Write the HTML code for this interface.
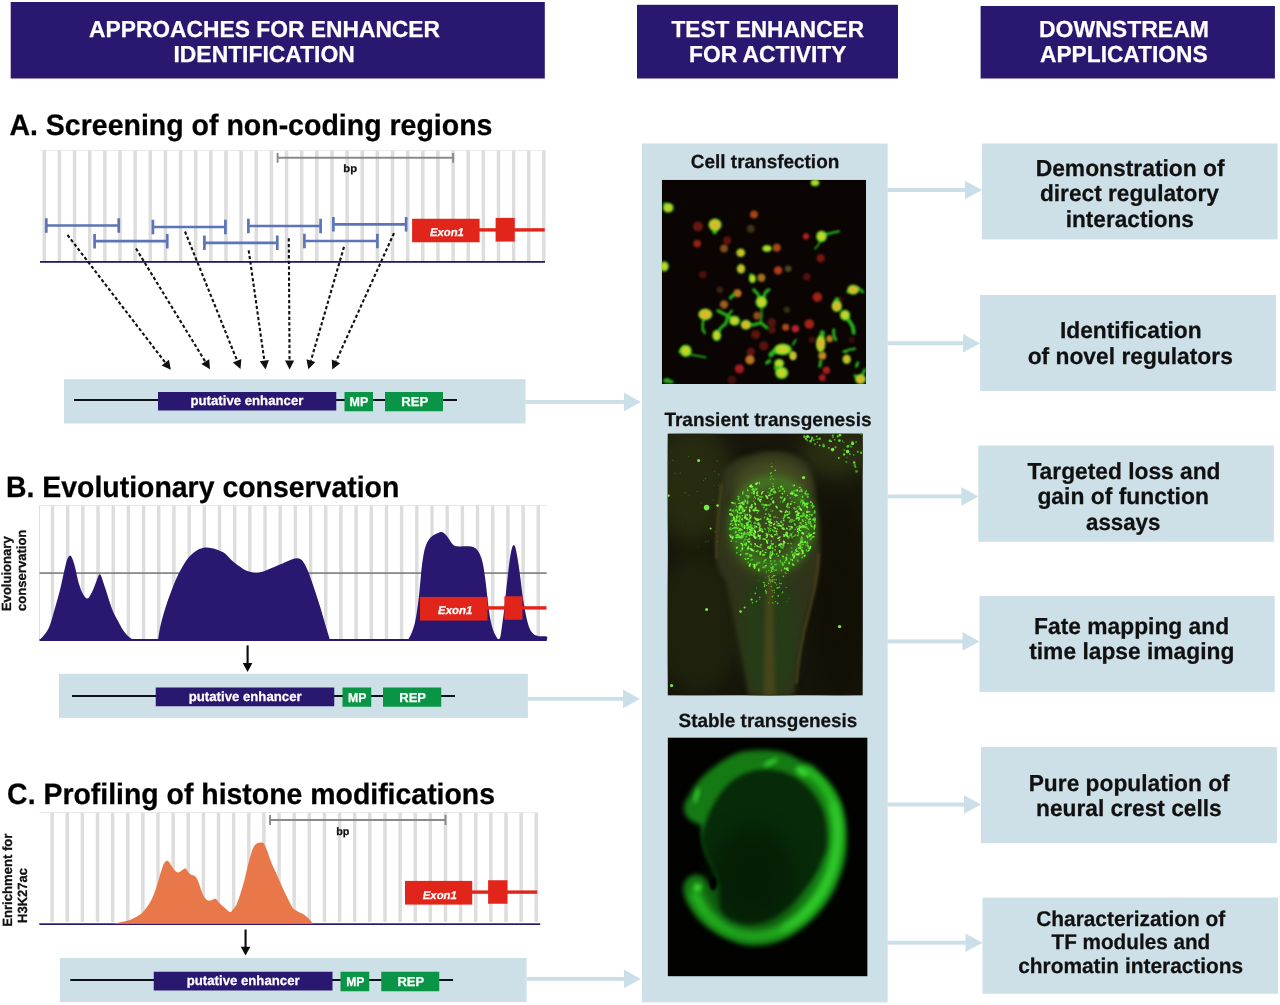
<!DOCTYPE html><html><head><meta charset="utf-8"><title>Enhancer identification</title>
<style>html,body{margin:0;padding:0;background:#fff}svg{display:block}text{font-family:"Liberation Sans",Arial,sans-serif;text-rendering:geometricPrecision}</style></head><body>
<svg width="1280" height="1005" viewBox="0 0 1280 1005">
<rect width="1280" height="1005" fill="#fff"/>
<defs>
<filter id="b1" color-interpolation-filters="sRGB" x="-50%" y="-50%" width="200%" height="200%"><feGaussianBlur stdDeviation="1.1"/></filter>
<filter id="b06" color-interpolation-filters="sRGB" x="-50%" y="-50%" width="200%" height="200%"><feGaussianBlur stdDeviation="0.6"/></filter>
<filter id="b08" color-interpolation-filters="sRGB" x="-50%" y="-50%" width="200%" height="200%"><feGaussianBlur stdDeviation="0.85"/></filter>
<filter id="b2" color-interpolation-filters="sRGB" x="-50%" y="-50%" width="200%" height="200%"><feGaussianBlur stdDeviation="2.2"/></filter>
<filter id="b25" color-interpolation-filters="sRGB" x="-50%" y="-50%" width="200%" height="200%"><feGaussianBlur stdDeviation="2.8"/></filter>
<filter id="b3" color-interpolation-filters="sRGB" x="-50%" y="-50%" width="200%" height="200%"><feGaussianBlur stdDeviation="3.5"/></filter>
<filter id="b6" color-interpolation-filters="sRGB" x="-50%" y="-50%" width="200%" height="200%"><feGaussianBlur stdDeviation="6"/></filter>
<filter id="b10" color-interpolation-filters="sRGB" x="-50%" y="-50%" width="200%" height="200%"><feGaussianBlur stdDeviation="10"/></filter>
<radialGradient id="gy"><stop offset="0" stop-color="#dccc2c"/><stop offset="0.6" stop-color="#bcd628"/><stop offset="1" stop-color="#3ad220"/></radialGradient>
<radialGradient id="go"><stop offset="0" stop-color="#e6a42c"/><stop offset="0.62" stop-color="#d6c42a"/><stop offset="1" stop-color="#5ccf24"/></radialGradient>
<clipPath id="c1"><rect x="0" y="0" width="204.3" height="204.3"/></clipPath>
<clipPath id="c2"><rect x="0" y="0" width="195.2" height="262"/></clipPath>
<clipPath id="c3"><rect x="0" y="0" width="200" height="239"/></clipPath>
</defs>
<rect x="10.7" y="2" width="534.1" height="76.5" fill="#2a1770"/>
<rect x="637" y="4.8" width="261" height="73.7" fill="#2a1770"/>
<rect x="980.6" y="6" width="294.3" height="72.5" fill="#2a1770"/>
<text transform="translate(89.00,37.20) scale(0.9943,1.013)" font-size="22.95" font-weight="bold" fill="#fff" stroke="#fff" stroke-width="0.25">APPROACHES FOR ENHANCER</text>
<text transform="translate(173.50,62.30) scale(0.9972,1.013)" font-size="22.95" font-weight="bold" fill="#fff" stroke="#fff" stroke-width="0.25">IDENTIFICATION</text>
<text transform="translate(671.50,37.20) scale(0.9872,1.013)" font-size="22.95" font-weight="bold" fill="#fff" stroke="#fff" stroke-width="0.25">TEST ENHANCER</text>
<text transform="translate(689.01,62.30) scale(0.9936,1.013)" font-size="22.95" font-weight="bold" fill="#fff" stroke="#fff" stroke-width="0.25">FOR ACTIVITY</text>
<text transform="translate(1039.00,37.20) scale(1.0030,1.013)" font-size="22.95" font-weight="bold" fill="#fff" stroke="#fff" stroke-width="0.25">DOWNSTREAM</text>
<text transform="translate(1040.00,62.30) scale(0.9911,1.013)" font-size="22.95" font-weight="bold" fill="#fff" stroke="#fff" stroke-width="0.25">APPLICATIONS</text>
<text transform="translate(9.40,135.00) scale(1.0002,1.035)" font-size="28.5" font-weight="bold" fill="#000" stroke="#000" stroke-width="0.25">A. Screening of non-coding regions</text>
<g fill="#dddddd"><rect x="42.55" y="150.4" width="3.50" height="110.6"/><rect x="57.69" y="150.4" width="3.50" height="110.6"/><rect x="72.83" y="150.4" width="3.50" height="110.6"/><rect x="87.97" y="150.4" width="3.50" height="110.6"/><rect x="103.11" y="150.4" width="3.50" height="110.6"/><rect x="118.25" y="150.4" width="3.50" height="110.6"/><rect x="133.39" y="150.4" width="3.50" height="110.6"/><rect x="148.53" y="150.4" width="3.50" height="110.6"/><rect x="163.67" y="150.4" width="3.50" height="110.6"/><rect x="178.81" y="150.4" width="3.50" height="110.6"/><rect x="193.95" y="150.4" width="3.50" height="110.6"/><rect x="209.09" y="150.4" width="3.50" height="110.6"/><rect x="224.23" y="150.4" width="3.50" height="110.6"/><rect x="239.37" y="150.4" width="3.50" height="110.6"/><rect x="254.51" y="150.4" width="3.50" height="110.6"/><rect x="269.65" y="150.4" width="3.50" height="110.6"/><rect x="284.79" y="150.4" width="3.50" height="110.6"/><rect x="299.93" y="150.4" width="3.50" height="110.6"/><rect x="315.07" y="150.4" width="3.50" height="110.6"/><rect x="330.21" y="150.4" width="3.50" height="110.6"/><rect x="345.35" y="150.4" width="3.50" height="110.6"/><rect x="360.49" y="150.4" width="3.50" height="110.6"/><rect x="375.63" y="150.4" width="3.50" height="110.6"/><rect x="390.77" y="150.4" width="3.50" height="110.6"/><rect x="405.91" y="150.4" width="3.50" height="110.6"/><rect x="421.05" y="150.4" width="3.50" height="110.6"/><rect x="436.19" y="150.4" width="3.50" height="110.6"/><rect x="451.33" y="150.4" width="3.50" height="110.6"/><rect x="466.47" y="150.4" width="3.50" height="110.6"/><rect x="481.61" y="150.4" width="3.50" height="110.6"/><rect x="496.75" y="150.4" width="3.50" height="110.6"/><rect x="511.89" y="150.4" width="3.50" height="110.6"/><rect x="527.03" y="150.4" width="3.50" height="110.6"/><rect x="542.17" y="150.4" width="3.33" height="110.6"/></g>
<rect x="40" y="150" width="505" height="0.8" fill="#e4e4e4"/>
<rect x="40" y="261" width="505" height="1.8" fill="#2a1770"/>
<g stroke="#8a8a8a" stroke-width="1.9" fill="none"><path d="M277.6,157.8H453.1M277.6,152.9V162.7M453.1,152.9V162.7"/></g>
<text transform="translate(343.30,172.10) scale(1.0385,1)" font-size="10.8" font-weight="bold" fill="#111" stroke="#111" stroke-width="0.25">bp</text>
<g stroke="#5b75b8" stroke-width="2.7" fill="none"><path d="M46.3,225.5H118.75M46.3,218.2V232.7M118.75,218.2V232.7"/><path d="M152.9,227.0H225.4M152.9,219.7V234.2M225.4,219.7V234.2"/><path d="M248.4,226.0H320.6M248.4,218.7V233.2M320.6,218.7V233.2"/><path d="M333.4,224.4H406.1M333.4,217.1V231.6M406.1,217.1V231.6"/><path d="M94.6,241.2H167.25M94.6,233.89999999999998V248.39999999999998M167.25,233.89999999999998V248.39999999999998"/><path d="M204.4,242.9H277.3M204.4,235.6V250.1M277.3,235.6V250.1"/><path d="M304.4,241.0H377.4M304.4,233.7V248.2M377.4,233.7V248.2"/></g>
<rect x="478.6" y="228.20000000000002" width="66.14999999999998" height="3.4" fill="#e1251b"/><rect x="412.1" y="218.75" width="67.5" height="23.5" fill="#e1251b"/><rect x="495.6" y="217.9" width="19.149999999999977" height="23.69999999999999" fill="#e1251b"/><text transform="translate(430.00,236.20) scale(0.9970,1)" font-size="11.3" font-weight="bold" font-style="italic" fill="#fff" stroke="#fff" stroke-width="0.25">Exon1</text>
<g stroke="#111" stroke-width="2.1" stroke-dasharray="3.3 2.3" fill="none"><path d="M67.5,235L165.33,362.66"/><path d="M136,248.5L205.30,361.63"/><path d="M185,231.5L237.13,360.65"/><path d="M248.7,250.3L264.34,360.59"/><path d="M288.8,238.3L289.55,360.50"/><path d="M344,246.9L310.91,360.66"/><path d="M394,233.1L336.01,361.30"/></g>
<g fill="#111"><polygon points="170.80,369.80 161.67,365.45 168.98,359.86"/><polygon points="210.00,369.30 201.38,364.03 209.22,359.22"/><polygon points="240.50,369.00 232.87,362.38 241.40,358.93"/><polygon points="265.60,369.50 259.78,361.23 268.89,359.94"/><polygon points="289.60,369.50 284.95,360.53 294.15,360.47"/><polygon points="308.40,369.30 306.50,359.37 315.33,361.94"/><polygon points="332.30,369.50 331.82,359.40 340.20,363.20"/></g>
<rect x="64" y="379.2" width="461.6" height="44.30000000000001" fill="#cde0e8"/><rect x="74" y="399" width="383" height="2" fill="#0c1218"/><rect x="158" y="392" width="178.25" height="18.5" fill="#2a1770"/><rect x="344.5" y="392" width="28.5" height="19.25" fill="#0a9546"/><rect x="385" y="392" width="58" height="19.25" fill="#0a9546"/><text transform="translate(190.50,404.50) scale(0.9848,1)" font-size="13.4" font-weight="bold" fill="#fff" stroke="#fff" stroke-width="0.25">putative enhancer</text><text transform="translate(349.50,406.00) scale(0.9737,1)" font-size="12.8" font-weight="bold" fill="#fff" stroke="#fff" stroke-width="0.25">MP</text><text transform="translate(401.25,406.00) scale(1.0288,1.014)" font-size="12.8" font-weight="bold" fill="#fff" stroke="#fff" stroke-width="0.25">REP</text>
<rect x="525.6" y="399.95" width="99.29999999999995" height="3.9" fill="#cbdfe8"/><polygon points="623.9,392.59999999999997 640.9,401.9 623.9,411.2" fill="#cbdfe8"/>
<text transform="translate(6.00,496.60) scale(0.9974,1.035)" font-size="28.5" font-weight="bold" fill="#000" stroke="#000" stroke-width="0.25">B. Evolutionary conservation</text>
<g fill="#dddddd"><rect x="50.80" y="505.5" width="3.40" height="134.5"/><rect x="65.98" y="505.5" width="3.40" height="134.5"/><rect x="81.16" y="505.5" width="3.40" height="134.5"/><rect x="96.34" y="505.5" width="3.40" height="134.5"/><rect x="111.52" y="505.5" width="3.40" height="134.5"/><rect x="126.70" y="505.5" width="3.40" height="134.5"/><rect x="141.88" y="505.5" width="3.40" height="134.5"/><rect x="157.06" y="505.5" width="3.40" height="134.5"/><rect x="172.24" y="505.5" width="3.40" height="134.5"/><rect x="187.42" y="505.5" width="3.40" height="134.5"/><rect x="202.60" y="505.5" width="3.40" height="134.5"/><rect x="217.78" y="505.5" width="3.40" height="134.5"/><rect x="232.96" y="505.5" width="3.40" height="134.5"/><rect x="248.14" y="505.5" width="3.40" height="134.5"/><rect x="263.32" y="505.5" width="3.40" height="134.5"/><rect x="278.50" y="505.5" width="3.40" height="134.5"/><rect x="293.68" y="505.5" width="3.40" height="134.5"/><rect x="308.86" y="505.5" width="3.40" height="134.5"/><rect x="324.04" y="505.5" width="3.40" height="134.5"/><rect x="339.22" y="505.5" width="3.40" height="134.5"/><rect x="354.40" y="505.5" width="3.40" height="134.5"/><rect x="369.58" y="505.5" width="3.40" height="134.5"/><rect x="384.76" y="505.5" width="3.40" height="134.5"/><rect x="399.94" y="505.5" width="3.40" height="134.5"/><rect x="415.12" y="505.5" width="3.40" height="134.5"/><rect x="430.30" y="505.5" width="3.40" height="134.5"/><rect x="445.48" y="505.5" width="3.40" height="134.5"/><rect x="460.66" y="505.5" width="3.40" height="134.5"/><rect x="475.84" y="505.5" width="3.40" height="134.5"/><rect x="491.02" y="505.5" width="3.40" height="134.5"/><rect x="506.20" y="505.5" width="3.40" height="134.5"/><rect x="521.38" y="505.5" width="3.40" height="134.5"/><rect x="536.56" y="505.5" width="3.40" height="134.5"/></g>
<rect x="39.5" y="505.2" width="507" height="0.8" fill="#e0e0e0"/><rect x="39.1" y="505.2" width="0.9" height="134" fill="#dcdcdc"/>
<rect x="39.5" y="572.3" width="507.2" height="1.6" fill="#7d7d7d"/>
<g fill="#2a1770"><path d="M39.50,640.00 C40.42,639.00 43.25,636.50 45.00,634.00 C46.75,631.50 48.33,629.33 50.00,625.00 C51.67,620.67 53.33,613.83 55.00,608.00 C56.67,602.17 58.50,596.00 60.00,590.00 C61.50,584.00 62.83,577.00 64.00,572.00 C65.17,567.00 66.00,562.75 67.00,560.00 C68.00,557.25 69.08,555.67 70.00,555.50 C70.92,555.33 71.67,557.08 72.50,559.00 C73.33,560.92 73.92,562.83 75.00,567.00 C76.08,571.17 77.67,579.50 79.00,584.00 C80.33,588.50 81.58,591.58 83.00,594.00 C84.42,596.42 86.08,598.67 87.50,598.50 C88.92,598.33 90.25,595.25 91.50,593.00 C92.75,590.75 93.92,587.67 95.00,585.00 C96.08,582.33 97.22,578.78 98.00,577.00 C98.78,575.22 99.12,574.30 99.70,574.30 C100.28,574.30 100.62,574.80 101.50,577.00 C102.38,579.20 103.17,582.00 105.00,587.50 C106.83,593.00 110.33,604.42 112.50,610.00 C114.67,615.58 116.25,617.67 118.00,621.00 C119.75,624.33 121.33,627.50 123.00,630.00 C124.67,632.50 126.33,634.33 128.00,636.00 C129.67,637.67 132.17,639.33 133.00,640.00Z"/><path d="M158.00,640.00 C158.33,638.00 159.17,632.00 160.00,628.00 C160.83,624.00 161.83,620.17 163.00,616.00 C164.17,611.83 165.42,607.67 167.00,603.00 C168.58,598.33 170.67,592.67 172.50,588.00 C174.33,583.33 175.92,579.25 178.00,575.00 C180.08,570.75 182.83,565.83 185.00,562.50 C187.17,559.17 188.92,557.08 191.00,555.00 C193.08,552.92 195.17,551.25 197.50,550.00 C199.83,548.75 202.58,547.78 205.00,547.50 C207.42,547.22 209.83,547.88 212.00,548.30 C214.17,548.72 215.83,549.13 218.00,550.00 C220.17,550.87 222.58,551.67 225.00,553.50 C227.42,555.33 230.17,558.92 232.50,561.00 C234.83,563.08 236.92,564.50 239.00,566.00 C241.08,567.50 242.33,568.83 245.00,570.00 C247.67,571.17 252.00,572.75 255.00,573.00 C258.00,573.25 260.50,572.20 263.00,571.50 C265.50,570.80 267.17,569.97 270.00,568.80 C272.83,567.63 277.08,565.77 280.00,564.50 C282.92,563.23 285.33,562.12 287.50,561.20 C289.67,560.28 291.42,559.48 293.00,559.00 C294.58,558.52 295.67,558.22 297.00,558.30 C298.33,558.38 299.83,558.72 301.00,559.50 C302.17,560.28 302.83,561.08 304.00,563.00 C305.17,564.92 306.67,567.83 308.00,571.00 C309.33,574.17 310.50,577.67 312.00,582.00 C313.50,586.33 315.33,591.83 317.00,597.00 C318.67,602.17 320.50,608.00 322.00,613.00 C323.50,618.00 324.67,622.50 326.00,627.00 C327.33,631.50 329.33,637.83 330.00,640.00Z"/><path d="M408.00,640.00 C408.67,638.67 410.75,635.33 412.00,632.00 C413.25,628.67 414.42,625.33 415.50,620.00 C416.58,614.67 417.67,606.67 418.50,600.00 C419.33,593.33 419.92,585.83 420.50,580.00 C421.08,574.17 421.33,570.00 422.00,565.00 C422.67,560.00 423.50,554.00 424.50,550.00 C425.50,546.00 426.58,543.42 428.00,541.00 C429.42,538.58 431.33,536.83 433.00,535.50 C434.67,534.17 436.58,533.58 438.00,533.00 C439.42,532.42 440.33,531.83 441.50,532.00 C442.67,532.17 443.75,532.83 445.00,534.00 C446.25,535.17 447.83,537.42 449.00,539.00 C450.17,540.58 451.00,542.33 452.00,543.50 C453.00,544.67 453.67,545.52 455.00,546.00 C456.33,546.48 458.17,546.37 460.00,546.40 C461.83,546.43 464.17,546.18 466.00,546.20 C467.83,546.22 469.50,546.20 471.00,546.50 C472.50,546.80 473.83,547.25 475.00,548.00 C476.17,548.75 477.00,549.50 478.00,551.00 C479.00,552.50 480.08,554.33 481.00,557.00 C481.92,559.67 482.67,562.33 483.50,567.00 C484.33,571.67 485.25,579.00 486.00,585.00 C486.75,591.00 487.25,597.17 488.00,603.00 C488.75,608.83 489.58,615.33 490.50,620.00 C491.42,624.67 492.50,628.17 493.50,631.00 C494.50,633.83 495.62,635.58 496.50,637.00 C497.38,638.42 498.13,639.67 498.80,639.50 C499.47,639.33 499.97,638.25 500.50,636.00 C501.03,633.75 501.42,630.17 502.00,626.00 C502.58,621.83 503.33,616.67 504.00,611.00 C504.67,605.33 505.33,598.17 506.00,592.00 C506.67,585.83 507.33,579.67 508.00,574.00 C508.67,568.33 509.33,562.33 510.00,558.00 C510.67,553.67 511.37,550.17 512.00,548.00 C512.63,545.83 513.22,545.00 513.80,545.00 C514.38,545.00 514.88,545.83 515.50,548.00 C516.12,550.17 516.75,553.50 517.50,558.00 C518.25,562.50 519.17,568.83 520.00,575.00 C520.83,581.17 521.58,588.67 522.50,595.00 C523.42,601.33 524.42,607.67 525.50,613.00 C526.58,618.33 527.75,623.58 529.00,627.00 C530.25,630.42 531.50,632.00 533.00,633.50 C534.50,635.00 535.72,635.50 538.00,636.00 C540.28,636.50 545.25,635.83 546.70,636.50 C548.15,637.17 546.70,639.42 546.70,640.00Z"/><rect x="39.5" y="639" width="507.2" height="2"/></g>
<rect x="486.5" y="606.1999999999999" width="60.0" height="3.4" fill="#e1251b"/><rect x="420" y="596.9" width="67.5" height="23.700000000000045" fill="#e1251b"/><rect x="504.4" y="596.25" width="18.100000000000023" height="23.5" fill="#e1251b"/><text transform="translate(438.10,614.40) scale(1.0121,1)" font-size="11.3" font-weight="bold" font-style="italic" fill="#fff" stroke="#fff" stroke-width="0.25">Exon1</text>
<text transform="translate(11.30,611.10) rotate(-90) scale(0.9829,1) translate(-0.00,0)" font-size="13.3" font-weight="bold" fill="#111" stroke="#111" stroke-width="0.25">Evoluionary</text><text transform="translate(26.30,610.90) rotate(-90) scale(0.9817,1) translate(-0.00,0)" font-size="13.3" font-weight="bold" fill="#111" stroke="#111" stroke-width="0.25">conservation</text>
<rect x="246.54999999999998" y="645.4" width="2.1" height="19.5" fill="#0a0a0a"/><polygon points="242.79999999999998,663.1 252.4,663.1 247.6,671.9" fill="#0a0a0a"/>
<rect x="59" y="673.8" width="468.9" height="44.200000000000045" fill="#cde0e8"/><rect x="72" y="695" width="383" height="2" fill="#0c1218"/><rect x="155.75" y="687.5" width="178.5" height="18.75" fill="#2a1770"/><rect x="342.5" y="687.5" width="28.75" height="19.25" fill="#0a9546"/><rect x="383" y="687.5" width="58.25" height="19.25" fill="#0a9546"/><text transform="translate(188.75,700.50) scale(0.9848,1)" font-size="13.4" font-weight="bold" fill="#fff" stroke="#fff" stroke-width="0.25">putative enhancer</text><text transform="translate(348.00,701.80) scale(0.9605,1)" font-size="12.8" font-weight="bold" fill="#fff" stroke="#fff" stroke-width="0.25">MP</text><text transform="translate(399.25,701.80) scale(1.0192,1.014)" font-size="12.8" font-weight="bold" fill="#fff" stroke="#fff" stroke-width="0.25">REP</text>
<rect x="527.9" y="696.9499999999999" width="96.10000000000002" height="3.9" fill="#cbdfe8"/><polygon points="623,689.6 640,698.9 623,708.1999999999999" fill="#cbdfe8"/>
<text transform="translate(7.10,804.10) scale(0.9973,1.035)" font-size="28.5" font-weight="bold" fill="#000" stroke="#000" stroke-width="0.25">C. Profiling of histone modifications</text>
<g fill="#dddddd"><rect x="50.35" y="812.5" width="3.50" height="109.5"/><rect x="65.48" y="812.5" width="3.50" height="109.5"/><rect x="80.61" y="812.5" width="3.50" height="109.5"/><rect x="95.74" y="812.5" width="3.50" height="109.5"/><rect x="110.87" y="812.5" width="3.50" height="109.5"/><rect x="126.00" y="812.5" width="3.50" height="109.5"/><rect x="141.13" y="812.5" width="3.50" height="109.5"/><rect x="156.26" y="812.5" width="3.50" height="109.5"/><rect x="171.39" y="812.5" width="3.50" height="109.5"/><rect x="186.52" y="812.5" width="3.50" height="109.5"/><rect x="201.65" y="812.5" width="3.50" height="109.5"/><rect x="216.78" y="812.5" width="3.50" height="109.5"/><rect x="231.91" y="812.5" width="3.50" height="109.5"/><rect x="247.04" y="812.5" width="3.50" height="109.5"/><rect x="262.17" y="812.5" width="3.50" height="109.5"/><rect x="277.30" y="812.5" width="3.50" height="109.5"/><rect x="292.43" y="812.5" width="3.50" height="109.5"/><rect x="307.56" y="812.5" width="3.50" height="109.5"/><rect x="322.69" y="812.5" width="3.50" height="109.5"/><rect x="337.82" y="812.5" width="3.50" height="109.5"/><rect x="352.95" y="812.5" width="3.50" height="109.5"/><rect x="368.08" y="812.5" width="3.50" height="109.5"/><rect x="383.21" y="812.5" width="3.50" height="109.5"/><rect x="398.34" y="812.5" width="3.50" height="109.5"/><rect x="413.47" y="812.5" width="3.50" height="109.5"/><rect x="428.60" y="812.5" width="3.50" height="109.5"/><rect x="443.73" y="812.5" width="3.50" height="109.5"/><rect x="458.86" y="812.5" width="3.50" height="109.5"/><rect x="473.99" y="812.5" width="3.50" height="109.5"/><rect x="489.12" y="812.5" width="3.50" height="109.5"/><rect x="504.25" y="812.5" width="3.50" height="109.5"/><rect x="519.38" y="812.5" width="3.50" height="109.5"/><rect x="534.51" y="812.5" width="3.50" height="109.5"/></g>
<rect x="39.5" y="812.2" width="498" height="0.8" fill="#e4e4e4"/>
<rect x="39.3" y="923.3" width="500.9" height="1.7" fill="#2a1770"/>
<g stroke="#8a8a8a" stroke-width="1.9" fill="none"><path d="M270,820H445.5M270,815V825M445.5,815V825"/></g>
<text transform="translate(336.20,834.50) scale(1.0000,1)" font-size="10.8" font-weight="bold" fill="#111" stroke="#111" stroke-width="0.25">bp</text>
<path d="M112.50,923.80 C114.08,923.50 119.08,922.63 122.00,922.00 C124.92,921.37 127.50,920.92 130.00,920.00 C132.50,919.08 134.92,917.75 137.00,916.50 C139.08,915.25 140.67,914.33 142.50,912.50 C144.33,910.67 146.33,908.00 148.00,905.50 C149.67,903.00 151.08,900.58 152.50,897.50 C153.92,894.42 155.25,890.75 156.50,887.00 C157.75,883.25 158.83,878.75 160.00,875.00 C161.17,871.25 162.58,866.75 163.50,864.50 C164.42,862.25 164.88,862.12 165.50,861.50 C166.12,860.88 166.62,860.72 167.20,860.80 C167.78,860.88 168.32,861.22 169.00,862.00 C169.68,862.78 170.47,864.25 171.30,865.50 C172.13,866.75 172.97,868.33 174.00,869.50 C175.03,870.67 176.33,872.25 177.50,872.50 C178.67,872.75 179.92,871.62 181.00,871.00 C182.08,870.38 183.23,869.20 184.00,868.80 C184.77,868.40 185.02,868.23 185.60,868.60 C186.18,868.97 186.77,870.10 187.50,871.00 C188.23,871.90 189.08,873.28 190.00,874.00 C190.92,874.72 192.12,874.88 193.00,875.30 C193.88,875.72 194.63,875.88 195.30,876.50 C195.97,877.12 196.38,877.83 197.00,879.00 C197.62,880.17 198.25,881.50 199.00,883.50 C199.75,885.50 200.67,888.83 201.50,891.00 C202.33,893.17 203.08,895.00 204.00,896.50 C204.92,898.00 206.00,899.32 207.00,900.00 C208.00,900.68 209.00,900.68 210.00,900.60 C211.00,900.52 212.07,899.82 213.00,899.50 C213.93,899.18 214.85,898.53 215.60,898.70 C216.35,898.87 216.77,899.67 217.50,900.50 C218.23,901.33 218.75,902.45 220.00,903.70 C221.25,904.95 223.33,906.62 225.00,908.00 C226.67,909.38 228.67,911.75 230.00,912.00 C231.33,912.25 231.95,910.67 233.00,909.50 C234.05,908.33 235.13,907.42 236.30,905.00 C237.47,902.58 238.75,898.75 240.00,895.00 C241.25,891.25 242.63,886.83 243.80,882.50 C244.97,878.17 245.97,873.17 247.00,869.00 C248.03,864.83 249.08,860.75 250.00,857.50 C250.92,854.25 251.67,851.58 252.50,849.50 C253.33,847.42 254.08,846.08 255.00,845.00 C255.92,843.92 256.95,843.42 258.00,843.00 C259.05,842.58 260.42,842.50 261.30,842.50 C262.18,842.50 262.68,842.50 263.30,843.00 C263.92,843.50 264.22,843.83 265.00,845.50 C265.78,847.17 266.95,850.17 268.00,853.00 C269.05,855.83 269.80,858.83 271.30,862.50 C272.80,866.17 275.13,870.83 277.00,875.00 C278.87,879.17 280.75,883.67 282.50,887.50 C284.25,891.33 285.83,894.67 287.50,898.00 C289.17,901.33 290.92,905.33 292.50,907.50 C294.08,909.67 295.33,909.95 297.00,911.00 C298.67,912.05 300.83,912.80 302.50,913.80 C304.17,914.80 305.75,915.97 307.00,917.00 C308.25,918.03 309.03,918.87 310.00,920.00 C310.97,921.13 312.33,923.17 312.80,923.80Z" fill="#e8784a"/>
<rect x="471.25" y="890.4" width="66.0" height="3.4" fill="#e1251b"/><rect x="405" y="880.9" width="67.25" height="23.700000000000045" fill="#e1251b"/><rect x="488.1" y="880.25" width="19.399999999999977" height="23.5" fill="#e1251b"/><text transform="translate(422.75,898.50) scale(1.0045,1)" font-size="11.3" font-weight="bold" font-style="italic" fill="#fff" stroke="#fff" stroke-width="0.25">Exon1</text>
<text transform="translate(12.00,926.80) rotate(-90) scale(0.9863,1) translate(-0.00,0)" font-size="13.3" font-weight="bold" fill="#111" stroke="#111" stroke-width="0.25">Enrichment for</text><text transform="translate(26.60,922.90) rotate(-90) scale(0.9768,1) translate(-0.00,0)" font-size="13.3" font-weight="bold" fill="#111" stroke="#111" stroke-width="0.25">H3K27ac</text>
<rect x="244.5" y="929.5" width="2.1" height="19.100000000000023" fill="#0a0a0a"/><polygon points="240.75,946.8000000000001 250.35000000000002,946.8000000000001 245.55,955.6" fill="#0a0a0a"/>
<rect x="60" y="958" width="466.6" height="44" fill="#cde0e8"/><rect x="70.3" y="979" width="382.7" height="2" fill="#0c1218"/><rect x="153.75" y="971.75" width="178.75" height="18.75" fill="#2a1770"/><rect x="340.5" y="971.75" width="28.75" height="19.5" fill="#0a9546"/><rect x="381.25" y="971.75" width="58.0" height="19.5" fill="#0a9546"/><text transform="translate(186.75,985.00) scale(0.9848,1)" font-size="13.4" font-weight="bold" fill="#fff" stroke="#fff" stroke-width="0.25">putative enhancer</text><text transform="translate(346.25,986.20) scale(0.9474,1)" font-size="12.8" font-weight="bold" fill="#fff" stroke="#fff" stroke-width="0.25">MP</text><text transform="translate(397.50,986.20) scale(1.0096,1.014)" font-size="12.8" font-weight="bold" fill="#fff" stroke="#fff" stroke-width="0.25">REP</text>
<rect x="526.6" y="976.9499999999999" width="98.29999999999995" height="3.9" fill="#cbdfe8"/><polygon points="623.9,969.6 640.9,978.9 623.9,988.1999999999999" fill="#cbdfe8"/>
<rect x="641.9" y="143.5" width="245.8" height="858.9" fill="#cde0e8"/>
<text transform="translate(690.80,168.40) scale(0.9926,1)" font-size="19.1" font-weight="bold" fill="#111" stroke="#111" stroke-width="0.25">Cell transfection</text>
<text transform="translate(664.40,426.30) scale(0.9957,1)" font-size="19.1" font-weight="bold" fill="#111" stroke="#111" stroke-width="0.25">Transient transgenesis</text>
<text transform="translate(678.60,726.80) scale(0.9906,1)" font-size="19.1" font-weight="bold" fill="#111" stroke="#111" stroke-width="0.25">Stable transgenesis</text>
<g transform="translate(661.8,179.8)" clip-path="url(#c1)">
<rect width="204.3" height="204.3" fill="#0a0402"/>
<g filter="url(#b1)" opacity="0.85">
<circle cx="92.2" cy="34.6" r="3.96" fill="#c2501e"/>
<circle cx="36.2" cy="46.7" r="5.06" fill="#7a1d12"/>
<circle cx="89" cy="49" r="3.96" fill="#4a3a1c"/>
<circle cx="35.4" cy="63.8" r="3.85" fill="#b02a1c"/>
<circle cx="65.4" cy="60.6" r="4.18" fill="#6e1712"/>
<circle cx="62.2" cy="68.7" r="3.96" fill="#9a5a22"/>
<circle cx="144.2" cy="56.5" r="3.08" fill="#d8242a"/>
<circle cx="115" cy="67.9" r="3.96" fill="#c4581f"/>
<circle cx="158.9" cy="78.4" r="4.18" fill="#8a1c16"/>
<circle cx="116.3" cy="90.6" r="4.18" fill="#d0461e"/>
<circle cx="126.4" cy="89" r="3.30" fill="#5a5426"/>
<circle cx="41" cy="94.7" r="3.85" fill="#5a1410"/>
<circle cx="145" cy="97" r="3.85" fill="#5e1512"/>
<circle cx="99.6" cy="97.9" r="3.96" fill="#c08a22"/>
<circle cx="155.6" cy="117.4" r="4.84" fill="#b8281a"/>
<circle cx="147.5" cy="144.2" r="4.84" fill="#c02a1c"/>
<circle cx="133.7" cy="149" r="3.74" fill="#d42a3a"/>
<circle cx="123.9" cy="147.5" r="3.52" fill="#c85a20"/>
<circle cx="110" cy="142.6" r="4.40" fill="#5c1a10"/>
<circle cx="93.9" cy="154.8" r="4.62" fill="#6a1a10"/>
<circle cx="102" cy="166" r="4.62" fill="#6a1712"/>
<circle cx="89" cy="171.9" r="4.18" fill="#701814"/>
<circle cx="77.6" cy="189" r="4.62" fill="#c0222a"/>
<circle cx="164.6" cy="190.5" r="3.74" fill="#c02528"/>
<circle cx="160.5" cy="197.9" r="3.52" fill="#b8222a"/>
<circle cx="95.5" cy="136" r="3.96" fill="#a85a1e"/>
<circle cx="62.2" cy="124.7" r="4.18" fill="#b0701f"/>
<circle cx="75.7" cy="113.4" r="3.96" fill="#e08a28"/>
<circle cx="167.8" cy="158.9" r="3.52" fill="#d8902a"/>
<circle cx="160.5" cy="176" r="3.96" fill="#e0a02a"/>
<circle cx="88.2" cy="180" r="4.62" fill="#dc8a2a"/>
<circle cx="131.2" cy="176" r="3.52" fill="#d8b030"/>
<circle cx="58" cy="110" r="3.30" fill="#4a2a14"/>
<circle cx="125" cy="130" r="3.30" fill="#3a3a1c"/>
<circle cx="110" cy="150" r="3.85" fill="#5a1a10"/>
<circle cx="70" cy="200" r="4.40" fill="#4a1410"/>
<circle cx="150" cy="160" r="3.30" fill="#4a1410"/>
<circle cx="190" cy="160" r="3.30" fill="#3a1210"/>
<circle cx="178" cy="120" r="3.30" fill="#3a1210"/>
</g>
<g filter="url(#b1)" stroke="#2cc41e" fill="none" stroke-linecap="round" opacity="0.9">
<path d="M159.7,55.7 L170,53 L177,51.5" stroke-width="2.4"/>
<path d="M159,60 L156,66 L153,69" stroke-width="1.6"/>
<path d="M53.2,46 L53,52" stroke-width="5"/>
<path d="M6.4,28 L3,24" stroke-width="3"/>
<path d="M99.6,122 L96,114 L92,110 M99.6,122 L104,112 L107,110" stroke-width="3.2"/>
<path d="M99.6,128 L100,136 L99,142" stroke-width="1.8"/>
<path d="M68.7,118 L72,115" stroke-width="3.5"/>
<path d="M43.5,134.5 L41,143 L41,150 L43,153" stroke-width="2.6"/>
<path d="M56,131 L62,134 L66,136 L72,140 M66,136 L64,144 L60,147 L57,151" stroke-width="3.2"/>
<path d="M66,136 L70,131" stroke-width="2.5"/>
<path d="M84,145 L92,145 L99,143 L105,148" stroke-width="3.2"/>
<path d="M160.5,153 L160,158 L158,166" stroke-width="5"/>
<path d="M171.9,150 L172,156 L174,160" stroke-width="3"/>
<path d="M175,120 L174,126" stroke-width="5"/>
<path d="M183,135 L188,142 L191,147 L192,153" stroke-width="4"/>
<path d="M191,110 L186,112 M196,108 L201,112" stroke-width="3"/>
<path d="M24,171 L30,175 L36,176 L44,177.5" stroke-width="1.8"/>
<path d="M18,172 L22,168" stroke-width="3"/>
<path d="M119.9,170 L112,172 L109,175" stroke-width="5"/>
<path d="M105,183 L108,181" stroke-width="3.5"/>
<path d="M117,183 L114,188 L119,193" stroke-width="4"/>
<path d="M184.9,172 L181,172 L187,170 L193,169" stroke-width="2.4"/>
<path d="M158,186.5 L159,181" stroke-width="3"/>
<path d="M194.6,186.5 L196,183" stroke-width="3"/>
<path d="M198,198 L193,196 M200,196 L203,190" stroke-width="3"/>
<path d="M6,200 L2,201 L10,202" stroke-width="3.5"/>
<path d="M131,165 L134,160" stroke-width="2"/>
<path d="M90.6,97.9 L89,95" stroke-width="3"/>
</g>
<g filter="url(#b08)">
<ellipse cx="153.2" cy="2.9" rx="4.48" ry="3.54" fill="url(#gy)"/>
<ellipse cx="6.4" cy="28" rx="5.43" ry="4.96" fill="url(#gy)"/>
<ellipse cx="53.2" cy="45" rx="6.61" ry="6.37" fill="url(#go)"/>
<ellipse cx="159.7" cy="56.5" rx="5.43" ry="5.90" fill="url(#gy)"/>
<ellipse cx="105.2" cy="68.7" rx="4.96" ry="3.54" fill="url(#gy)"/>
<ellipse cx="78.9" cy="73" rx="4.48" ry="4.25" fill="url(#go)"/>
<ellipse cx="2.5" cy="86.6" rx="4.48" ry="5.19" fill="url(#gy)"/>
<ellipse cx="79.2" cy="89" rx="4.25" ry="4.72" fill="url(#go)"/>
<ellipse cx="90.6" cy="99" rx="3.54" ry="4.25" fill="url(#gy)"/>
<ellipse cx="191.4" cy="110" rx="5.90" ry="4.96" fill="url(#go)"/>
<ellipse cx="175" cy="126.4" rx="5.19" ry="5.90" fill="url(#go)"/>
<ellipse cx="183.2" cy="135.3" rx="5.19" ry="5.43" fill="url(#gy)"/>
<ellipse cx="99.6" cy="122.3" rx="5.90" ry="6.14" fill="url(#gy)"/>
<ellipse cx="43.5" cy="134.5" rx="7.08" ry="5.90" fill="url(#go)"/>
<ellipse cx="72.7" cy="141" rx="5.43" ry="4.96" fill="url(#gy)"/>
<ellipse cx="54.9" cy="155.6" rx="4.48" ry="5.66" fill="url(#gy)"/>
<ellipse cx="84.1" cy="145" rx="5.19" ry="4.96" fill="url(#go)"/>
<ellipse cx="158.9" cy="164" rx="4.72" ry="8.73" fill="url(#go)"/>
<ellipse cx="24" cy="171" rx="5.90" ry="6.14" fill="url(#gy)"/>
<ellipse cx="121" cy="169.5" rx="8.97" ry="5.90" fill="url(#gy)"/>
<ellipse cx="184.9" cy="179.5" rx="4.25" ry="4.72" fill="url(#go)"/>
<ellipse cx="117.4" cy="183.5" rx="4.96" ry="4.25" fill="url(#gy)"/>
<ellipse cx="119.9" cy="193" rx="6.61" ry="6.14" fill="url(#gy)"/>
<ellipse cx="198.7" cy="199.5" rx="5.43" ry="4.96" fill="url(#go)"/>
<ellipse cx="131.2" cy="176" rx="3.07" ry="4.48" fill="url(#go)"/>
</g></g>
<g transform="translate(667.6,433.6)" clip-path="url(#c2)">
<rect width="195.2" height="262" fill="#15150a"/>
<g filter="url(#b10)"><ellipse cx="25" cy="50" rx="42" ry="60" fill="#272b10"/><ellipse cx="30" cy="190" rx="45" ry="70" fill="#1e220d"/><ellipse cx="170" cy="18" rx="40" ry="26" fill="#2a3012"/><ellipse cx="172" cy="170" rx="26" ry="100" fill="#120f05"/><ellipse cx="100" cy="10" rx="40" ry="10" fill="#1a160a"/></g>
<path d="M106.5,17.7 C98,17.7 92,19 85.7,20.8 C76,23 69,25 64.9,28.6 C59,32 57,35 55.8,39 C53,48 52.5,56 51.9,64.9 C50.5,75 49.5,82 48.8,90.9 C48,100 47.8,108 48,116.9 C48.3,124 49,130 50.6,135 C53,141 56,145 58.4,148 C61,160 63,170 65.3,181.8 C68,195 71,208 74.1,220.7 C77,234 79,248 81,262 L126,262 C128.6,252 129,243 129.8,233.7 C131,225 132,216 133.7,207.7 C136,197 139,187 141.5,176.6 C144,166 147,156 149.3,145.4 C151,136 152.5,126 152.7,116.9 C152.8,105 152,94 150.6,83.1 C149.5,72 148.5,62 146.7,51.9 C145,44 143,37 140.2,31.2 C136,26 131,23 124.6,20.8 C118,18.5 112,17.7 106.5,17.7Z" fill="#30341a" filter="url(#b2)"/>
<g filter="url(#b6)"><ellipse cx="104" cy="52" rx="38" ry="26" fill="#454b22"/><ellipse cx="102" cy="200" rx="28" ry="66" fill="#263c17"/><ellipse cx="102" cy="100" rx="42" ry="44" fill="#384a1c"/></g>
<path d="M99,140 C98,180 96,220 96,262 L108,262 C106,220 106,180 106,140Z" fill="#5a4c1e" opacity="0.65" filter="url(#b2)"/>
<path d="M151,120 C150,150 142,175 136,200 C132,218 130,235 129,250" stroke="#5c4f22" stroke-width="2.2" fill="none" opacity="0.7" filter="url(#b1)"/>
<path d="M54,50 C51,75 48,100 49,125" stroke="#5a5528" stroke-width="2" fill="none" opacity="0.6" filter="url(#b1)"/>
<g filter="url(#b3)" opacity="0.38"><ellipse cx="104.5" cy="90" rx="36" ry="42" fill="none" stroke="#3fae22" stroke-width="14"/></g>
<g filter="url(#b06)"><ellipse cx="105.0" cy="133.7" rx="1.78" ry="0.84" fill="#5be02a" transform="rotate(114 105.0 133.7)"/><ellipse cx="139.5" cy="60.8" rx="2.05" ry="1.06" fill="#45c022" transform="rotate(166 139.5 60.8)"/><ellipse cx="130.0" cy="127.1" rx="1.57" ry="0.72" fill="#45c022" transform="rotate(59 130.0 127.1)"/><ellipse cx="66.4" cy="85.7" rx="2.34" ry="1.08" fill="#7cf03c" transform="rotate(65 66.4 85.7)"/><ellipse cx="146.9" cy="93.3" rx="1.37" ry="0.94" fill="#5be02a" transform="rotate(79 146.9 93.3)"/><ellipse cx="134.9" cy="113.9" rx="0.74" ry="0.52" fill="#5be02a" transform="rotate(2 134.9 113.9)"/><ellipse cx="129.3" cy="93.4" rx="0.99" ry="0.71" fill="#4fd026" transform="rotate(151 129.3 93.4)"/><ellipse cx="120.1" cy="81.0" rx="1.52" ry="0.69" fill="#7cf03c" transform="rotate(147 120.1 81.0)"/><ellipse cx="138.4" cy="111.5" rx="0.92" ry="0.50" fill="#74f23c" transform="rotate(3 138.4 111.5)"/><ellipse cx="74.1" cy="90.7" rx="1.35" ry="0.99" fill="#74f23c" transform="rotate(79 74.1 90.7)"/><ellipse cx="112.9" cy="68.4" rx="0.59" ry="0.51" fill="#4fd026" transform="rotate(61 112.9 68.4)"/><ellipse cx="80.9" cy="108.2" rx="1.77" ry="0.77" fill="#5be02a" transform="rotate(32 80.9 108.2)"/><ellipse cx="139.9" cy="111.2" rx="0.65" ry="0.57" fill="#4fd026" transform="rotate(105 139.9 111.2)"/><ellipse cx="72.4" cy="72.6" rx="2.08" ry="1.07" fill="#7cf03c" transform="rotate(133 72.4 72.6)"/><ellipse cx="79.6" cy="84.6" rx="1.32" ry="1.08" fill="#45c022" transform="rotate(94 79.6 84.6)"/><ellipse cx="83.5" cy="53.0" rx="2.25" ry="1.02" fill="#93fa52" transform="rotate(7 83.5 53.0)"/><ellipse cx="82.1" cy="77.0" rx="2.01" ry="0.85" fill="#93fa52" transform="rotate(84 82.1 77.0)"/><ellipse cx="80.6" cy="113.3" rx="1.57" ry="0.72" fill="#5be02a" transform="rotate(132 80.6 113.3)"/><ellipse cx="90.8" cy="65.3" rx="1.49" ry="1.03" fill="#5be02a" transform="rotate(94 90.8 65.3)"/><ellipse cx="130.5" cy="95.1" rx="1.27" ry="0.65" fill="#74f23c" transform="rotate(162 130.5 95.1)"/><ellipse cx="83.7" cy="74.2" rx="1.24" ry="0.81" fill="#74f23c" transform="rotate(34 83.7 74.2)"/><ellipse cx="104.1" cy="134.8" rx="2.07" ry="0.90" fill="#4fd026" transform="rotate(43 104.1 134.8)"/><ellipse cx="101.7" cy="61.6" rx="1.52" ry="0.77" fill="#7cf03c" transform="rotate(159 101.7 61.6)"/><ellipse cx="68.6" cy="76.6" rx="1.22" ry="0.81" fill="#66e830" transform="rotate(144 68.6 76.6)"/><ellipse cx="119.7" cy="99.9" rx="1.64" ry="0.84" fill="#66e830" transform="rotate(94 119.7 99.9)"/><ellipse cx="89.0" cy="76.8" rx="1.73" ry="0.83" fill="#93fa52" transform="rotate(179 89.0 76.8)"/><ellipse cx="135.4" cy="110.9" rx="0.89" ry="0.52" fill="#7cf03c" transform="rotate(1 135.4 110.9)"/><ellipse cx="94.8" cy="97.8" rx="1.25" ry="0.90" fill="#93fa52" transform="rotate(22 94.8 97.8)"/><ellipse cx="82.9" cy="83.7" rx="2.24" ry="1.02" fill="#4fd026" transform="rotate(129 82.9 83.7)"/><ellipse cx="122.6" cy="64.4" rx="0.98" ry="0.46" fill="#5be02a" transform="rotate(109 122.6 64.4)"/><ellipse cx="111.3" cy="104.1" rx="2.03" ry="0.88" fill="#93fa52" transform="rotate(148 111.3 104.1)"/><ellipse cx="124.3" cy="103.0" rx="1.69" ry="0.77" fill="#45c022" transform="rotate(65 124.3 103.0)"/><ellipse cx="143.2" cy="105.3" rx="1.89" ry="1.06" fill="#45c022" transform="rotate(127 143.2 105.3)"/><ellipse cx="113.3" cy="77.7" rx="1.74" ry="0.95" fill="#93fa52" transform="rotate(23 113.3 77.7)"/><ellipse cx="68.1" cy="97.8" rx="0.87" ry="0.52" fill="#66e830" transform="rotate(121 68.1 97.8)"/><ellipse cx="77.4" cy="68.1" rx="1.04" ry="0.60" fill="#93fa52" transform="rotate(149 77.4 68.1)"/><ellipse cx="126.3" cy="102.8" rx="1.12" ry="0.68" fill="#45c022" transform="rotate(157 126.3 102.8)"/><ellipse cx="131.0" cy="98.8" rx="1.21" ry="0.59" fill="#66e830" transform="rotate(88 131.0 98.8)"/><ellipse cx="98.9" cy="104.0" rx="1.09" ry="0.50" fill="#93fa52" transform="rotate(139 98.9 104.0)"/><ellipse cx="109.6" cy="95.4" rx="0.90" ry="0.51" fill="#66e830" transform="rotate(87 109.6 95.4)"/><ellipse cx="92.8" cy="68.0" rx="1.05" ry="0.80" fill="#74f23c" transform="rotate(29 92.8 68.0)"/><ellipse cx="108.1" cy="101.0" rx="1.11" ry="0.48" fill="#93fa52" transform="rotate(19 108.1 101.0)"/><ellipse cx="93.3" cy="113.7" rx="0.94" ry="0.56" fill="#7cf03c" transform="rotate(94 93.3 113.7)"/><ellipse cx="119.3" cy="134.9" rx="1.91" ry="0.95" fill="#66e830" transform="rotate(161 119.3 134.9)"/><ellipse cx="67.4" cy="69.8" rx="1.24" ry="0.54" fill="#74f23c" transform="rotate(84 67.4 69.8)"/><ellipse cx="91.8" cy="49.5" rx="1.42" ry="0.70" fill="#5be02a" transform="rotate(87 91.8 49.5)"/><ellipse cx="117.0" cy="134.3" rx="0.69" ry="0.47" fill="#7cf03c" transform="rotate(76 117.0 134.3)"/><ellipse cx="125.3" cy="121.1" rx="1.70" ry="0.85" fill="#66e830" transform="rotate(101 125.3 121.1)"/><ellipse cx="140.8" cy="95.5" rx="0.90" ry="0.57" fill="#5be02a" transform="rotate(66 140.8 95.5)"/><ellipse cx="134.6" cy="123.8" rx="0.93" ry="0.54" fill="#74f23c" transform="rotate(126 134.6 123.8)"/><ellipse cx="73.8" cy="109.9" rx="1.14" ry="0.64" fill="#93fa52" transform="rotate(167 73.8 109.9)"/><ellipse cx="107.2" cy="94.3" rx="1.74" ry="0.93" fill="#7cf03c" transform="rotate(40 107.2 94.3)"/><ellipse cx="86.2" cy="100.2" rx="1.38" ry="0.90" fill="#66e830" transform="rotate(57 86.2 100.2)"/><ellipse cx="114.2" cy="113.6" rx="2.29" ry="1.07" fill="#45c022" transform="rotate(29 114.2 113.6)"/><ellipse cx="129.8" cy="97.9" rx="0.87" ry="0.67" fill="#93fa52" transform="rotate(116 129.8 97.9)"/><ellipse cx="73.5" cy="120.7" rx="0.90" ry="0.52" fill="#45c022" transform="rotate(79 73.5 120.7)"/><ellipse cx="87.5" cy="70.2" rx="1.75" ry="0.85" fill="#74f23c" transform="rotate(63 87.5 70.2)"/><ellipse cx="77.9" cy="125.5" rx="1.28" ry="0.62" fill="#7cf03c" transform="rotate(41 77.9 125.5)"/><ellipse cx="90.8" cy="97.9" rx="0.62" ry="0.49" fill="#66e830" transform="rotate(159 90.8 97.9)"/><ellipse cx="71.0" cy="63.1" rx="1.38" ry="0.81" fill="#4fd026" transform="rotate(20 71.0 63.1)"/><ellipse cx="76.2" cy="108.4" rx="0.67" ry="0.45" fill="#7cf03c" transform="rotate(154 76.2 108.4)"/><ellipse cx="133.2" cy="75.7" rx="0.86" ry="0.67" fill="#7cf03c" transform="rotate(112 133.2 75.7)"/><ellipse cx="84.5" cy="98.8" rx="1.04" ry="0.64" fill="#7cf03c" transform="rotate(132 84.5 98.8)"/><ellipse cx="138.1" cy="70.5" rx="1.71" ry="0.95" fill="#66e830" transform="rotate(151 138.1 70.5)"/><ellipse cx="75.0" cy="69.1" rx="1.87" ry="0.80" fill="#7cf03c" transform="rotate(108 75.0 69.1)"/><ellipse cx="109.0" cy="73.5" rx="1.78" ry="0.92" fill="#74f23c" transform="rotate(56 109.0 73.5)"/><ellipse cx="83.2" cy="99.3" rx="1.15" ry="0.73" fill="#66e830" transform="rotate(85 83.2 99.3)"/><ellipse cx="83.1" cy="122.1" rx="1.68" ry="1.03" fill="#66e830" transform="rotate(170 83.1 122.1)"/><ellipse cx="134.1" cy="90.7" rx="0.72" ry="0.46" fill="#5be02a" transform="rotate(28 134.1 90.7)"/><ellipse cx="63.7" cy="107.5" rx="0.91" ry="0.68" fill="#74f23c" transform="rotate(99 63.7 107.5)"/><ellipse cx="83.0" cy="84.5" rx="0.67" ry="0.55" fill="#93fa52" transform="rotate(4 83.0 84.5)"/><ellipse cx="72.0" cy="83.1" rx="1.15" ry="0.82" fill="#74f23c" transform="rotate(71 72.0 83.1)"/><ellipse cx="62.4" cy="94.8" rx="1.94" ry="0.84" fill="#45c022" transform="rotate(122 62.4 94.8)"/><ellipse cx="91.1" cy="91.0" rx="1.99" ry="0.95" fill="#66e830" transform="rotate(14 91.1 91.0)"/><ellipse cx="83.8" cy="89.3" rx="0.71" ry="0.54" fill="#4fd026" transform="rotate(37 83.8 89.3)"/><ellipse cx="133.9" cy="93.2" rx="2.01" ry="0.85" fill="#4fd026" transform="rotate(132 133.9 93.2)"/><ellipse cx="75.3" cy="58.4" rx="0.87" ry="0.50" fill="#93fa52" transform="rotate(21 75.3 58.4)"/><ellipse cx="86.1" cy="76.8" rx="1.56" ry="0.95" fill="#7cf03c" transform="rotate(23 86.1 76.8)"/><ellipse cx="72.4" cy="103.9" rx="1.89" ry="0.80" fill="#7cf03c" transform="rotate(17 72.4 103.9)"/><ellipse cx="115.6" cy="111.1" rx="1.89" ry="0.97" fill="#5be02a" transform="rotate(96 115.6 111.1)"/><ellipse cx="78.5" cy="110.5" rx="2.13" ry="0.92" fill="#66e830" transform="rotate(100 78.5 110.5)"/><ellipse cx="66.7" cy="85.3" rx="1.05" ry="0.62" fill="#7cf03c" transform="rotate(84 66.7 85.3)"/><ellipse cx="71.8" cy="99.3" rx="0.79" ry="0.46" fill="#7cf03c" transform="rotate(23 71.8 99.3)"/><ellipse cx="127.6" cy="95.8" rx="0.73" ry="0.53" fill="#74f23c" transform="rotate(176 127.6 95.8)"/><ellipse cx="82.7" cy="99.3" rx="0.70" ry="0.45" fill="#4fd026" transform="rotate(78 82.7 99.3)"/><ellipse cx="90.9" cy="77.2" rx="1.10" ry="0.83" fill="#66e830" transform="rotate(137 90.9 77.2)"/><ellipse cx="82.3" cy="81.6" rx="1.56" ry="0.77" fill="#66e830" transform="rotate(50 82.3 81.6)"/><ellipse cx="98.3" cy="76.1" rx="1.23" ry="0.75" fill="#4fd026" transform="rotate(84 98.3 76.1)"/><ellipse cx="124.1" cy="93.6" rx="1.70" ry="1.01" fill="#7cf03c" transform="rotate(34 124.1 93.6)"/><ellipse cx="129.5" cy="56.9" rx="1.17" ry="1.04" fill="#7cf03c" transform="rotate(93 129.5 56.9)"/><ellipse cx="128.8" cy="77.9" rx="1.78" ry="0.87" fill="#93fa52" transform="rotate(157 128.8 77.9)"/><ellipse cx="71.2" cy="87.8" rx="0.98" ry="0.55" fill="#4fd026" transform="rotate(62 71.2 87.8)"/><ellipse cx="77.0" cy="93.5" rx="1.98" ry="1.05" fill="#93fa52" transform="rotate(88 77.0 93.5)"/><ellipse cx="79.1" cy="120.2" rx="1.78" ry="0.75" fill="#66e830" transform="rotate(176 79.1 120.2)"/><ellipse cx="83.0" cy="114.9" rx="1.62" ry="0.72" fill="#4fd026" transform="rotate(13 83.0 114.9)"/><ellipse cx="133.7" cy="67.0" rx="1.32" ry="0.60" fill="#5be02a" transform="rotate(121 133.7 67.0)"/><ellipse cx="79.6" cy="106.2" rx="1.10" ry="0.48" fill="#66e830" transform="rotate(170 79.6 106.2)"/><ellipse cx="124.1" cy="59.9" rx="1.85" ry="1.00" fill="#93fa52" transform="rotate(0 124.1 59.9)"/><ellipse cx="109.0" cy="88.0" rx="0.92" ry="0.55" fill="#93fa52" transform="rotate(135 109.0 88.0)"/><ellipse cx="87.1" cy="103.5" rx="2.44" ry="1.04" fill="#93fa52" transform="rotate(52 87.1 103.5)"/><ellipse cx="129.6" cy="117.7" rx="0.73" ry="0.48" fill="#66e830" transform="rotate(90 129.6 117.7)"/><ellipse cx="137.4" cy="93.3" rx="2.46" ry="1.05" fill="#7cf03c" transform="rotate(27 137.4 93.3)"/><ellipse cx="128.5" cy="117.0" rx="1.54" ry="0.94" fill="#74f23c" transform="rotate(57 128.5 117.0)"/><ellipse cx="123.5" cy="110.0" rx="1.31" ry="0.61" fill="#45c022" transform="rotate(29 123.5 110.0)"/><ellipse cx="108.1" cy="113.0" rx="1.05" ry="0.85" fill="#5be02a" transform="rotate(112 108.1 113.0)"/><ellipse cx="106.5" cy="90.6" rx="1.46" ry="0.82" fill="#93fa52" transform="rotate(145 106.5 90.6)"/><ellipse cx="139.6" cy="78.2" rx="1.25" ry="1.07" fill="#93fa52" transform="rotate(149 139.6 78.2)"/><ellipse cx="94.8" cy="58.4" rx="1.01" ry="0.56" fill="#7cf03c" transform="rotate(92 94.8 58.4)"/><ellipse cx="139.4" cy="81.9" rx="1.18" ry="0.93" fill="#93fa52" transform="rotate(60 139.4 81.9)"/><ellipse cx="86.8" cy="89.1" rx="1.73" ry="0.79" fill="#45c022" transform="rotate(127 86.8 89.1)"/><ellipse cx="133.4" cy="111.3" rx="1.77" ry="0.83" fill="#45c022" transform="rotate(113 133.4 111.3)"/><ellipse cx="106.3" cy="83.6" rx="0.69" ry="0.51" fill="#7cf03c" transform="rotate(139 106.3 83.6)"/><ellipse cx="88.1" cy="92.9" rx="1.96" ry="0.94" fill="#93fa52" transform="rotate(22 88.1 92.9)"/><ellipse cx="89.8" cy="117.5" rx="1.39" ry="0.82" fill="#4fd026" transform="rotate(105 89.8 117.5)"/><ellipse cx="92.5" cy="94.8" rx="1.73" ry="0.92" fill="#74f23c" transform="rotate(37 92.5 94.8)"/><ellipse cx="86.4" cy="130.8" rx="1.70" ry="0.74" fill="#5be02a" transform="rotate(174 86.4 130.8)"/><ellipse cx="106.0" cy="68.9" rx="1.09" ry="0.60" fill="#74f23c" transform="rotate(107 106.0 68.9)"/><ellipse cx="87.7" cy="74.9" rx="1.85" ry="0.99" fill="#74f23c" transform="rotate(118 87.7 74.9)"/><ellipse cx="133.0" cy="75.6" rx="2.02" ry="0.95" fill="#93fa52" transform="rotate(52 133.0 75.6)"/><ellipse cx="70.8" cy="101.1" rx="0.96" ry="0.56" fill="#45c022" transform="rotate(98 70.8 101.1)"/><ellipse cx="76.8" cy="69.0" rx="1.58" ry="0.77" fill="#45c022" transform="rotate(100 76.8 69.0)"/><ellipse cx="64.5" cy="81.4" rx="1.21" ry="0.94" fill="#74f23c" transform="rotate(30 64.5 81.4)"/><ellipse cx="145.1" cy="74.0" rx="0.70" ry="0.59" fill="#74f23c" transform="rotate(131 145.1 74.0)"/><ellipse cx="84.2" cy="71.5" rx="1.29" ry="0.89" fill="#7cf03c" transform="rotate(115 84.2 71.5)"/><ellipse cx="69.5" cy="77.0" rx="0.87" ry="0.58" fill="#4fd026" transform="rotate(156 69.5 77.0)"/><ellipse cx="115.2" cy="94.7" rx="1.59" ry="1.06" fill="#7cf03c" transform="rotate(17 115.2 94.7)"/><ellipse cx="110.7" cy="122.3" rx="1.15" ry="0.71" fill="#5be02a" transform="rotate(125 110.7 122.3)"/><ellipse cx="82.7" cy="100.4" rx="1.23" ry="0.87" fill="#5be02a" transform="rotate(87 82.7 100.4)"/><ellipse cx="115.2" cy="55.1" rx="1.30" ry="1.02" fill="#5be02a" transform="rotate(103 115.2 55.1)"/><ellipse cx="131.6" cy="119.7" rx="1.35" ry="0.63" fill="#74f23c" transform="rotate(164 131.6 119.7)"/><ellipse cx="100.7" cy="114.3" rx="1.37" ry="0.84" fill="#93fa52" transform="rotate(16 100.7 114.3)"/><ellipse cx="70.4" cy="82.6" rx="0.73" ry="0.54" fill="#74f23c" transform="rotate(66 70.4 82.6)"/><ellipse cx="75.6" cy="93.2" rx="1.51" ry="0.79" fill="#45c022" transform="rotate(176 75.6 93.2)"/><ellipse cx="90.1" cy="117.7" rx="1.28" ry="0.97" fill="#45c022" transform="rotate(176 90.1 117.7)"/><ellipse cx="73.1" cy="117.3" rx="0.87" ry="0.65" fill="#45c022" transform="rotate(32 73.1 117.3)"/><ellipse cx="145.3" cy="86.3" rx="1.40" ry="0.64" fill="#45c022" transform="rotate(173 145.3 86.3)"/><ellipse cx="63.0" cy="103.1" rx="1.62" ry="0.76" fill="#93fa52" transform="rotate(64 63.0 103.1)"/><ellipse cx="90.9" cy="89.7" rx="1.33" ry="0.80" fill="#7cf03c" transform="rotate(32 90.9 89.7)"/><ellipse cx="90.2" cy="48.9" rx="0.83" ry="0.52" fill="#7cf03c" transform="rotate(74 90.2 48.9)"/><ellipse cx="147.2" cy="91.9" rx="1.36" ry="0.71" fill="#93fa52" transform="rotate(98 147.2 91.9)"/><ellipse cx="147.3" cy="86.1" rx="2.15" ry="0.91" fill="#5be02a" transform="rotate(103 147.3 86.1)"/><ellipse cx="139.0" cy="94.0" rx="2.07" ry="0.95" fill="#4fd026" transform="rotate(57 139.0 94.0)"/><ellipse cx="89.8" cy="112.5" rx="1.60" ry="0.88" fill="#66e830" transform="rotate(37 89.8 112.5)"/><ellipse cx="84.3" cy="116.2" rx="2.26" ry="1.01" fill="#93fa52" transform="rotate(30 84.3 116.2)"/><ellipse cx="133.4" cy="105.2" rx="1.03" ry="0.57" fill="#45c022" transform="rotate(13 133.4 105.2)"/><ellipse cx="145.0" cy="70.3" rx="1.12" ry="0.53" fill="#66e830" transform="rotate(104 145.0 70.3)"/><ellipse cx="99.6" cy="102.6" rx="1.42" ry="0.62" fill="#66e830" transform="rotate(63 99.6 102.6)"/><ellipse cx="70.5" cy="103.9" rx="0.64" ry="0.55" fill="#74f23c" transform="rotate(137 70.5 103.9)"/><ellipse cx="130.5" cy="114.2" rx="0.62" ry="0.45" fill="#4fd026" transform="rotate(2 130.5 114.2)"/><ellipse cx="102.5" cy="113.5" rx="2.14" ry="0.93" fill="#93fa52" transform="rotate(102 102.5 113.5)"/><ellipse cx="76.7" cy="110.0" rx="0.58" ry="0.45" fill="#4fd026" transform="rotate(99 76.7 110.0)"/><ellipse cx="77.1" cy="110.9" rx="1.10" ry="0.73" fill="#5be02a" transform="rotate(167 77.1 110.9)"/><ellipse cx="140.9" cy="88.5" rx="1.56" ry="0.79" fill="#74f23c" transform="rotate(88 140.9 88.5)"/><ellipse cx="115.8" cy="95.4" rx="1.81" ry="0.78" fill="#74f23c" transform="rotate(5 115.8 95.4)"/><ellipse cx="99.5" cy="101.4" rx="1.78" ry="1.07" fill="#74f23c" transform="rotate(127 99.5 101.4)"/><ellipse cx="89.7" cy="79.3" rx="0.88" ry="0.65" fill="#4fd026" transform="rotate(134 89.7 79.3)"/><ellipse cx="126.5" cy="123.1" rx="2.21" ry="1.01" fill="#7cf03c" transform="rotate(108 126.5 123.1)"/><ellipse cx="71.3" cy="102.7" rx="1.43" ry="0.73" fill="#93fa52" transform="rotate(98 71.3 102.7)"/><ellipse cx="72.2" cy="95.1" rx="0.56" ry="0.47" fill="#4fd026" transform="rotate(38 72.2 95.1)"/><ellipse cx="83.1" cy="96.3" rx="2.19" ry="1.06" fill="#93fa52" transform="rotate(28 83.1 96.3)"/><ellipse cx="134.2" cy="108.3" rx="2.25" ry="1.04" fill="#66e830" transform="rotate(26 134.2 108.3)"/><ellipse cx="70.0" cy="78.5" rx="1.28" ry="0.60" fill="#93fa52" transform="rotate(53 70.0 78.5)"/><ellipse cx="88.0" cy="89.7" rx="1.19" ry="0.62" fill="#5be02a" transform="rotate(27 88.0 89.7)"/><ellipse cx="77.7" cy="83.3" rx="2.16" ry="1.02" fill="#74f23c" transform="rotate(93 77.7 83.3)"/><ellipse cx="132.2" cy="53.8" rx="1.34" ry="0.71" fill="#5be02a" transform="rotate(174 132.2 53.8)"/><ellipse cx="87.9" cy="85.0" rx="1.87" ry="0.84" fill="#7cf03c" transform="rotate(50 87.9 85.0)"/><ellipse cx="80.3" cy="94.2" rx="1.93" ry="0.96" fill="#66e830" transform="rotate(161 80.3 94.2)"/><ellipse cx="84.9" cy="55.3" rx="0.69" ry="0.47" fill="#4fd026" transform="rotate(88 84.9 55.3)"/><ellipse cx="70.9" cy="101.7" rx="1.44" ry="0.91" fill="#4fd026" transform="rotate(104 70.9 101.7)"/><ellipse cx="125.1" cy="99.0" rx="0.67" ry="0.53" fill="#5be02a" transform="rotate(88 125.1 99.0)"/><ellipse cx="92.6" cy="102.3" rx="1.02" ry="0.75" fill="#93fa52" transform="rotate(153 92.6 102.3)"/><ellipse cx="127.7" cy="101.6" rx="1.19" ry="0.61" fill="#5be02a" transform="rotate(172 127.7 101.6)"/><ellipse cx="75.1" cy="60.0" rx="1.01" ry="0.73" fill="#66e830" transform="rotate(93 75.1 60.0)"/><ellipse cx="144.2" cy="92.6" rx="1.45" ry="0.75" fill="#5be02a" transform="rotate(56 144.2 92.6)"/><ellipse cx="135.5" cy="87.9" rx="0.82" ry="0.48" fill="#93fa52" transform="rotate(167 135.5 87.9)"/><ellipse cx="74.5" cy="85.7" rx="1.07" ry="0.95" fill="#7cf03c" transform="rotate(178 74.5 85.7)"/><ellipse cx="68.1" cy="90.7" rx="1.19" ry="0.94" fill="#93fa52" transform="rotate(39 68.1 90.7)"/><ellipse cx="140.2" cy="63.3" rx="1.17" ry="1.01" fill="#4fd026" transform="rotate(105 140.2 63.3)"/><ellipse cx="84.4" cy="98.0" rx="0.98" ry="0.76" fill="#45c022" transform="rotate(60 84.4 98.0)"/><ellipse cx="137.7" cy="86.6" rx="0.98" ry="0.58" fill="#45c022" transform="rotate(26 137.7 86.6)"/><ellipse cx="90.4" cy="86.1" rx="1.89" ry="1.06" fill="#93fa52" transform="rotate(158 90.4 86.1)"/><ellipse cx="63.2" cy="103.2" rx="0.80" ry="0.70" fill="#74f23c" transform="rotate(28 63.2 103.2)"/><ellipse cx="82.7" cy="92.0" rx="0.77" ry="0.47" fill="#5be02a" transform="rotate(54 82.7 92.0)"/><ellipse cx="116.8" cy="83.1" rx="1.41" ry="0.80" fill="#5be02a" transform="rotate(100 116.8 83.1)"/><ellipse cx="81.1" cy="92.5" rx="0.83" ry="0.65" fill="#4fd026" transform="rotate(135 81.1 92.5)"/><ellipse cx="124.9" cy="126.4" rx="1.03" ry="0.68" fill="#93fa52" transform="rotate(58 124.9 126.4)"/><ellipse cx="95.1" cy="117.2" rx="1.39" ry="0.60" fill="#7cf03c" transform="rotate(94 95.1 117.2)"/><ellipse cx="106.5" cy="98.1" rx="0.71" ry="0.56" fill="#66e830" transform="rotate(88 106.5 98.1)"/><ellipse cx="136.6" cy="81.9" rx="1.17" ry="0.49" fill="#66e830" transform="rotate(64 136.6 81.9)"/><ellipse cx="132.9" cy="68.8" rx="0.99" ry="0.48" fill="#5be02a" transform="rotate(101 132.9 68.8)"/><ellipse cx="102.5" cy="82.3" rx="0.91" ry="0.44" fill="#93fa52" transform="rotate(85 102.5 82.3)"/><ellipse cx="107.1" cy="58.2" rx="1.21" ry="0.73" fill="#5be02a" transform="rotate(113 107.1 58.2)"/><ellipse cx="113.4" cy="87.8" rx="1.11" ry="0.51" fill="#7cf03c" transform="rotate(140 113.4 87.8)"/><ellipse cx="68.2" cy="98.7" rx="1.38" ry="1.05" fill="#4fd026" transform="rotate(120 68.2 98.7)"/><ellipse cx="72.9" cy="121.1" rx="1.14" ry="0.57" fill="#93fa52" transform="rotate(126 72.9 121.1)"/><ellipse cx="62.7" cy="76.3" rx="1.37" ry="0.86" fill="#66e830" transform="rotate(133 62.7 76.3)"/><ellipse cx="87.8" cy="111.3" rx="0.86" ry="0.50" fill="#7cf03c" transform="rotate(66 87.8 111.3)"/><ellipse cx="142.3" cy="81.1" rx="0.86" ry="0.60" fill="#74f23c" transform="rotate(110 142.3 81.1)"/><ellipse cx="134.4" cy="104.2" rx="1.06" ry="0.56" fill="#7cf03c" transform="rotate(78 134.4 104.2)"/><ellipse cx="81.3" cy="86.3" rx="1.67" ry="1.06" fill="#4fd026" transform="rotate(25 81.3 86.3)"/><ellipse cx="117.1" cy="128.6" rx="0.88" ry="0.66" fill="#74f23c" transform="rotate(149 117.1 128.6)"/><ellipse cx="98.5" cy="116.1" rx="0.82" ry="0.65" fill="#66e830" transform="rotate(74 98.5 116.1)"/><ellipse cx="86.8" cy="55.8" rx="0.74" ry="0.61" fill="#5be02a" transform="rotate(72 86.8 55.8)"/><ellipse cx="130.1" cy="78.7" rx="1.06" ry="0.50" fill="#74f23c" transform="rotate(136 130.1 78.7)"/><ellipse cx="115.0" cy="129.7" rx="1.82" ry="0.94" fill="#45c022" transform="rotate(59 115.0 129.7)"/><ellipse cx="79.9" cy="97.2" rx="0.88" ry="0.49" fill="#45c022" transform="rotate(168 79.9 97.2)"/><ellipse cx="97.4" cy="95.5" rx="1.23" ry="0.53" fill="#7cf03c" transform="rotate(17 97.4 95.5)"/><ellipse cx="145.1" cy="72.3" rx="2.42" ry="1.06" fill="#45c022" transform="rotate(19 145.1 72.3)"/><ellipse cx="89.1" cy="85.7" rx="1.26" ry="1.00" fill="#74f23c" transform="rotate(124 89.1 85.7)"/><ellipse cx="145.7" cy="86.5" rx="1.12" ry="0.50" fill="#4fd026" transform="rotate(85 145.7 86.5)"/><ellipse cx="129.3" cy="84.6" rx="1.76" ry="0.83" fill="#7cf03c" transform="rotate(146 129.3 84.6)"/><ellipse cx="100.7" cy="106.4" rx="0.53" ry="0.46" fill="#66e830" transform="rotate(47 100.7 106.4)"/><ellipse cx="86.9" cy="132.9" rx="2.31" ry="1.06" fill="#93fa52" transform="rotate(89 86.9 132.9)"/><ellipse cx="124.2" cy="87.8" rx="1.45" ry="0.81" fill="#4fd026" transform="rotate(133 124.2 87.8)"/><ellipse cx="68.5" cy="85.1" rx="1.04" ry="0.60" fill="#66e830" transform="rotate(85 68.5 85.1)"/><ellipse cx="143.4" cy="68.2" rx="0.85" ry="0.48" fill="#7cf03c" transform="rotate(52 143.4 68.2)"/><ellipse cx="86.2" cy="117.1" rx="1.02" ry="0.49" fill="#74f23c" transform="rotate(113 86.2 117.1)"/><ellipse cx="91.6" cy="113.3" rx="1.16" ry="0.62" fill="#7cf03c" transform="rotate(17 91.6 113.3)"/><ellipse cx="103.2" cy="86.0" rx="1.22" ry="0.76" fill="#5be02a" transform="rotate(108 103.2 86.0)"/><ellipse cx="124.4" cy="118.1" rx="0.73" ry="0.56" fill="#7cf03c" transform="rotate(60 124.4 118.1)"/><ellipse cx="100.5" cy="58.7" rx="0.86" ry="0.68" fill="#4fd026" transform="rotate(37 100.5 58.7)"/><ellipse cx="134.9" cy="106.2" rx="0.92" ry="0.52" fill="#45c022" transform="rotate(145 134.9 106.2)"/><ellipse cx="63.2" cy="80.3" rx="1.07" ry="0.85" fill="#93fa52" transform="rotate(153 63.2 80.3)"/><ellipse cx="69.3" cy="114.1" rx="1.23" ry="1.07" fill="#66e830" transform="rotate(149 69.3 114.1)"/><ellipse cx="64.9" cy="69.2" rx="1.66" ry="0.95" fill="#7cf03c" transform="rotate(16 64.9 69.2)"/><ellipse cx="69.2" cy="83.7" rx="1.33" ry="0.84" fill="#93fa52" transform="rotate(64 69.2 83.7)"/><ellipse cx="74.0" cy="99.8" rx="1.27" ry="0.71" fill="#93fa52" transform="rotate(65 74.0 99.8)"/><ellipse cx="119.2" cy="102.0" rx="2.28" ry="1.04" fill="#7cf03c" transform="rotate(41 119.2 102.0)"/><ellipse cx="104.0" cy="137.5" rx="1.17" ry="0.64" fill="#93fa52" transform="rotate(40 104.0 137.5)"/><ellipse cx="69.2" cy="119.0" rx="1.05" ry="0.51" fill="#66e830" transform="rotate(131 69.2 119.0)"/><ellipse cx="78.6" cy="103.2" rx="1.24" ry="0.64" fill="#5be02a" transform="rotate(164 78.6 103.2)"/><ellipse cx="119.7" cy="61.7" rx="0.64" ry="0.47" fill="#7cf03c" transform="rotate(129 119.7 61.7)"/><ellipse cx="131.4" cy="84.7" rx="1.70" ry="0.85" fill="#93fa52" transform="rotate(76 131.4 84.7)"/><ellipse cx="126.5" cy="75.2" rx="1.18" ry="0.55" fill="#4fd026" transform="rotate(62 126.5 75.2)"/><ellipse cx="146.4" cy="99.5" rx="1.48" ry="0.86" fill="#7cf03c" transform="rotate(156 146.4 99.5)"/><ellipse cx="98.7" cy="138.3" rx="0.79" ry="0.54" fill="#4fd026" transform="rotate(99 98.7 138.3)"/><ellipse cx="125.2" cy="130.2" rx="1.06" ry="0.48" fill="#66e830" transform="rotate(100 125.2 130.2)"/><ellipse cx="132.1" cy="57.6" rx="1.14" ry="0.59" fill="#66e830" transform="rotate(30 132.1 57.6)"/><ellipse cx="90.8" cy="101.4" rx="1.49" ry="0.65" fill="#5be02a" transform="rotate(74 90.8 101.4)"/><ellipse cx="68.8" cy="92.1" rx="0.60" ry="0.48" fill="#7cf03c" transform="rotate(137 68.8 92.1)"/><ellipse cx="138.6" cy="91.0" rx="1.38" ry="0.63" fill="#66e830" transform="rotate(163 138.6 91.0)"/><ellipse cx="80.5" cy="125.0" rx="1.35" ry="0.71" fill="#66e830" transform="rotate(164 80.5 125.0)"/><ellipse cx="72.6" cy="89.5" rx="0.81" ry="0.71" fill="#5be02a" transform="rotate(48 72.6 89.5)"/><ellipse cx="123.8" cy="126.3" rx="0.56" ry="0.47" fill="#5be02a" transform="rotate(110 123.8 126.3)"/><ellipse cx="130.3" cy="80.4" rx="2.36" ry="1.00" fill="#93fa52" transform="rotate(146 130.3 80.4)"/><ellipse cx="105.1" cy="110.7" rx="1.62" ry="0.99" fill="#5be02a" transform="rotate(144 105.1 110.7)"/><ellipse cx="145.8" cy="85.5" rx="0.93" ry="0.74" fill="#74f23c" transform="rotate(124 145.8 85.5)"/><ellipse cx="128.1" cy="62.3" rx="0.75" ry="0.65" fill="#66e830" transform="rotate(130 128.1 62.3)"/><ellipse cx="84.2" cy="91.9" rx="1.00" ry="0.72" fill="#5be02a" transform="rotate(105 84.2 91.9)"/><ellipse cx="80.5" cy="63.3" rx="1.53" ry="0.87" fill="#66e830" transform="rotate(102 80.5 63.3)"/><ellipse cx="123.9" cy="100.7" rx="1.02" ry="0.73" fill="#4fd026" transform="rotate(57 123.9 100.7)"/><ellipse cx="102.7" cy="123.9" rx="1.52" ry="0.98" fill="#93fa52" transform="rotate(66 102.7 123.9)"/><ellipse cx="89.8" cy="61.8" rx="1.43" ry="0.88" fill="#74f23c" transform="rotate(6 89.8 61.8)"/><ellipse cx="146.8" cy="95.7" rx="1.13" ry="0.62" fill="#45c022" transform="rotate(126 146.8 95.7)"/><ellipse cx="134.9" cy="63.1" rx="1.31" ry="0.76" fill="#66e830" transform="rotate(107 134.9 63.1)"/><ellipse cx="62.2" cy="80.1" rx="0.85" ry="0.72" fill="#5be02a" transform="rotate(76 62.2 80.1)"/><ellipse cx="79.1" cy="85.5" rx="1.27" ry="0.79" fill="#93fa52" transform="rotate(38 79.1 85.5)"/><ellipse cx="81.5" cy="63.0" rx="0.66" ry="0.57" fill="#5be02a" transform="rotate(163 81.5 63.0)"/><ellipse cx="112.8" cy="127.6" rx="1.55" ry="0.72" fill="#45c022" transform="rotate(72 112.8 127.6)"/><ellipse cx="75.1" cy="69.8" rx="2.20" ry="0.97" fill="#7cf03c" transform="rotate(43 75.1 69.8)"/><ellipse cx="71.1" cy="91.2" rx="0.90" ry="0.75" fill="#93fa52" transform="rotate(171 71.1 91.2)"/><ellipse cx="134.9" cy="86.4" rx="1.01" ry="0.81" fill="#5be02a" transform="rotate(151 134.9 86.4)"/><ellipse cx="135.8" cy="80.2" rx="1.19" ry="0.99" fill="#5be02a" transform="rotate(106 135.8 80.2)"/><ellipse cx="141.5" cy="83.0" rx="1.14" ry="0.62" fill="#4fd026" transform="rotate(63 141.5 83.0)"/><ellipse cx="143.3" cy="68.7" rx="1.20" ry="0.82" fill="#5be02a" transform="rotate(41 143.3 68.7)"/><ellipse cx="87.2" cy="93.4" rx="1.72" ry="0.86" fill="#45c022" transform="rotate(62 87.2 93.4)"/><ellipse cx="88.8" cy="104.1" rx="0.67" ry="0.58" fill="#4fd026" transform="rotate(100 88.8 104.1)"/><ellipse cx="132.4" cy="109.6" rx="0.85" ry="0.62" fill="#66e830" transform="rotate(142 132.4 109.6)"/><ellipse cx="93.2" cy="95.6" rx="2.23" ry="1.03" fill="#5be02a" transform="rotate(28 93.2 95.6)"/><ellipse cx="116.8" cy="57.7" rx="1.16" ry="0.77" fill="#66e830" transform="rotate(74 116.8 57.7)"/><ellipse cx="101.3" cy="88.4" rx="0.86" ry="0.53" fill="#7cf03c" transform="rotate(28 101.3 88.4)"/><ellipse cx="63.3" cy="90.3" rx="1.48" ry="0.82" fill="#5be02a" transform="rotate(149 63.3 90.3)"/><ellipse cx="93.4" cy="63.2" rx="2.44" ry="1.07" fill="#45c022" transform="rotate(4 93.4 63.2)"/><ellipse cx="141.0" cy="113.1" rx="1.18" ry="0.83" fill="#4fd026" transform="rotate(85 141.0 113.1)"/><ellipse cx="116.6" cy="101.3" rx="1.19" ry="0.56" fill="#74f23c" transform="rotate(42 116.6 101.3)"/><ellipse cx="134.7" cy="67.2" rx="1.61" ry="1.05" fill="#4fd026" transform="rotate(47 134.7 67.2)"/><ellipse cx="143.5" cy="92.4" rx="1.37" ry="0.71" fill="#5be02a" transform="rotate(61 143.5 92.4)"/><ellipse cx="71.7" cy="87.4" rx="1.57" ry="0.68" fill="#7cf03c" transform="rotate(179 71.7 87.4)"/><ellipse cx="109.8" cy="84.2" rx="0.77" ry="0.60" fill="#4fd026" transform="rotate(155 109.8 84.2)"/><ellipse cx="120.1" cy="70.9" rx="1.70" ry="0.93" fill="#74f23c" transform="rotate(114 120.1 70.9)"/><ellipse cx="110.2" cy="89.2" rx="0.96" ry="0.56" fill="#66e830" transform="rotate(111 110.2 89.2)"/><ellipse cx="68.8" cy="102.0" rx="1.07" ry="0.90" fill="#66e830" transform="rotate(17 68.8 102.0)"/><ellipse cx="146.6" cy="94.7" rx="0.71" ry="0.56" fill="#74f23c" transform="rotate(18 146.6 94.7)"/><ellipse cx="77.3" cy="84.0" rx="1.41" ry="0.80" fill="#93fa52" transform="rotate(1 77.3 84.0)"/><ellipse cx="83.4" cy="51.9" rx="1.34" ry="1.04" fill="#93fa52" transform="rotate(95 83.4 51.9)"/><ellipse cx="131.3" cy="113.9" rx="1.03" ry="0.50" fill="#7cf03c" transform="rotate(47 131.3 113.9)"/><ellipse cx="82.2" cy="82.8" rx="1.10" ry="0.60" fill="#5be02a" transform="rotate(106 82.2 82.8)"/><ellipse cx="87.0" cy="112.9" rx="0.87" ry="0.53" fill="#45c022" transform="rotate(23 87.0 112.9)"/><ellipse cx="127.2" cy="90.8" rx="1.60" ry="0.73" fill="#5be02a" transform="rotate(67 127.2 90.8)"/><ellipse cx="141.2" cy="78.2" rx="1.69" ry="0.83" fill="#5be02a" transform="rotate(0 141.2 78.2)"/><ellipse cx="80.5" cy="114.8" rx="1.28" ry="0.95" fill="#93fa52" transform="rotate(121 80.5 114.8)"/><ellipse cx="86.9" cy="100.3" rx="1.16" ry="0.88" fill="#66e830" transform="rotate(167 86.9 100.3)"/><ellipse cx="112.1" cy="117.9" rx="1.67" ry="0.91" fill="#7cf03c" transform="rotate(91 112.1 117.9)"/><ellipse cx="110.0" cy="91.9" rx="1.74" ry="0.79" fill="#4fd026" transform="rotate(28 110.0 91.9)"/><ellipse cx="124.3" cy="67.7" rx="0.85" ry="0.54" fill="#5be02a" transform="rotate(154 124.3 67.7)"/><ellipse cx="87.8" cy="54.6" rx="0.71" ry="0.59" fill="#45c022" transform="rotate(83 87.8 54.6)"/><ellipse cx="113.7" cy="53.0" rx="0.84" ry="0.74" fill="#93fa52" transform="rotate(67 113.7 53.0)"/><ellipse cx="72.0" cy="75.2" rx="2.15" ry="1.05" fill="#5be02a" transform="rotate(116 72.0 75.2)"/><ellipse cx="85.3" cy="94.7" rx="1.92" ry="0.88" fill="#5be02a" transform="rotate(30 85.3 94.7)"/><ellipse cx="129.1" cy="82.5" rx="1.56" ry="0.93" fill="#4fd026" transform="rotate(79 129.1 82.5)"/><ellipse cx="121.6" cy="93.0" rx="1.00" ry="0.45" fill="#93fa52" transform="rotate(36 121.6 93.0)"/><ellipse cx="108.8" cy="97.8" rx="1.21" ry="0.87" fill="#93fa52" transform="rotate(46 108.8 97.8)"/><ellipse cx="98.2" cy="71.5" rx="2.15" ry="1.02" fill="#74f23c" transform="rotate(11 98.2 71.5)"/><ellipse cx="111.7" cy="106.5" rx="0.94" ry="0.71" fill="#93fa52" transform="rotate(158 111.7 106.5)"/><ellipse cx="137.0" cy="122.1" rx="1.37" ry="0.96" fill="#66e830" transform="rotate(139 137.0 122.1)"/><ellipse cx="79.6" cy="81.1" rx="1.19" ry="0.82" fill="#74f23c" transform="rotate(86 79.6 81.1)"/><ellipse cx="94.2" cy="59.7" rx="1.55" ry="0.71" fill="#93fa52" transform="rotate(93 94.2 59.7)"/><ellipse cx="113.6" cy="52.9" rx="1.35" ry="0.76" fill="#66e830" transform="rotate(155 113.6 52.9)"/><ellipse cx="81.6" cy="105.4" rx="1.42" ry="1.06" fill="#4fd026" transform="rotate(151 81.6 105.4)"/><ellipse cx="134.9" cy="81.7" rx="1.30" ry="0.58" fill="#4fd026" transform="rotate(179 134.9 81.7)"/><ellipse cx="63.0" cy="80.6" rx="1.46" ry="0.95" fill="#74f23c" transform="rotate(3 63.0 80.6)"/><ellipse cx="140.7" cy="117.2" rx="1.25" ry="0.82" fill="#5be02a" transform="rotate(132 140.7 117.2)"/><ellipse cx="91.6" cy="129.2" rx="1.18" ry="0.96" fill="#45c022" transform="rotate(167 91.6 129.2)"/><ellipse cx="104.2" cy="102.6" rx="1.79" ry="0.93" fill="#93fa52" transform="rotate(33 104.2 102.6)"/><ellipse cx="89.6" cy="59.0" rx="1.62" ry="0.88" fill="#66e830" transform="rotate(113 89.6 59.0)"/><ellipse cx="131.8" cy="94.0" rx="1.44" ry="0.94" fill="#66e830" transform="rotate(85 131.8 94.0)"/><ellipse cx="142.6" cy="89.8" rx="1.74" ry="0.93" fill="#7cf03c" transform="rotate(46 142.6 89.8)"/><ellipse cx="72.3" cy="82.7" rx="0.66" ry="0.51" fill="#74f23c" transform="rotate(145 72.3 82.7)"/><ellipse cx="65.1" cy="91.8" rx="0.90" ry="0.68" fill="#66e830" transform="rotate(169 65.1 91.8)"/><ellipse cx="121.5" cy="129.4" rx="1.44" ry="1.04" fill="#5be02a" transform="rotate(93 121.5 129.4)"/><ellipse cx="142.8" cy="88.3" rx="0.95" ry="0.67" fill="#7cf03c" transform="rotate(137 142.8 88.3)"/><ellipse cx="75.5" cy="103.3" rx="1.37" ry="0.90" fill="#45c022" transform="rotate(178 75.5 103.3)"/><ellipse cx="130.7" cy="115.2" rx="0.83" ry="0.64" fill="#45c022" transform="rotate(175 130.7 115.2)"/><ellipse cx="83.6" cy="111.4" rx="0.67" ry="0.49" fill="#4fd026" transform="rotate(120 83.6 111.4)"/><ellipse cx="102.0" cy="54.7" rx="1.30" ry="0.61" fill="#4fd026" transform="rotate(153 102.0 54.7)"/><ellipse cx="130.2" cy="95.7" rx="0.99" ry="0.58" fill="#93fa52" transform="rotate(19 130.2 95.7)"/><ellipse cx="88.6" cy="50.7" rx="0.93" ry="0.62" fill="#93fa52" transform="rotate(102 88.6 50.7)"/><ellipse cx="97.0" cy="83.7" rx="1.22" ry="0.60" fill="#4fd026" transform="rotate(112 97.0 83.7)"/><ellipse cx="133.3" cy="96.9" rx="0.89" ry="0.45" fill="#4fd026" transform="rotate(148 133.3 96.9)"/><ellipse cx="71.8" cy="86.0" rx="0.60" ry="0.51" fill="#93fa52" transform="rotate(152 71.8 86.0)"/><ellipse cx="140.2" cy="112.4" rx="1.39" ry="0.80" fill="#4fd026" transform="rotate(98 140.2 112.4)"/><ellipse cx="77.2" cy="106.0" rx="1.44" ry="0.78" fill="#45c022" transform="rotate(132 77.2 106.0)"/><ellipse cx="124.8" cy="60.9" rx="0.81" ry="0.47" fill="#93fa52" transform="rotate(1 124.8 60.9)"/><ellipse cx="116.2" cy="111.8" rx="1.42" ry="0.64" fill="#5be02a" transform="rotate(84 116.2 111.8)"/><ellipse cx="124.5" cy="85.8" rx="0.99" ry="0.49" fill="#7cf03c" transform="rotate(15 124.5 85.8)"/><ellipse cx="103.4" cy="121.8" rx="1.30" ry="0.81" fill="#93fa52" transform="rotate(31 103.4 121.8)"/><ellipse cx="128.4" cy="116.8" rx="1.00" ry="0.78" fill="#4fd026" transform="rotate(4 128.4 116.8)"/><ellipse cx="119.7" cy="78.2" rx="1.01" ry="0.60" fill="#7cf03c" transform="rotate(123 119.7 78.2)"/><ellipse cx="97.5" cy="126.8" rx="2.12" ry="0.94" fill="#4fd026" transform="rotate(140 97.5 126.8)"/><ellipse cx="91.2" cy="136.3" rx="1.54" ry="0.90" fill="#7cf03c" transform="rotate(89 91.2 136.3)"/><ellipse cx="68.8" cy="87.1" rx="1.25" ry="0.53" fill="#74f23c" transform="rotate(44 68.8 87.1)"/><ellipse cx="96.3" cy="133.6" rx="2.12" ry="0.98" fill="#45c022" transform="rotate(174 96.3 133.6)"/><ellipse cx="140.0" cy="69.8" rx="1.15" ry="0.98" fill="#5be02a" transform="rotate(131 140.0 69.8)"/><ellipse cx="104.8" cy="120.3" rx="1.71" ry="0.87" fill="#7cf03c" transform="rotate(111 104.8 120.3)"/><ellipse cx="115.4" cy="91.0" rx="1.02" ry="0.74" fill="#93fa52" transform="rotate(113 115.4 91.0)"/><ellipse cx="69.9" cy="103.6" rx="1.41" ry="0.71" fill="#74f23c" transform="rotate(173 69.9 103.6)"/><ellipse cx="95.6" cy="71.0" rx="2.35" ry="1.07" fill="#45c022" transform="rotate(13 95.6 71.0)"/><ellipse cx="79.2" cy="92.6" rx="0.84" ry="0.73" fill="#45c022" transform="rotate(154 79.2 92.6)"/><ellipse cx="100.3" cy="85.7" rx="1.80" ry="0.82" fill="#66e830" transform="rotate(153 100.3 85.7)"/><ellipse cx="79.9" cy="96.2" rx="0.69" ry="0.45" fill="#4fd026" transform="rotate(15 79.9 96.2)"/><ellipse cx="74.5" cy="116.0" rx="0.97" ry="0.52" fill="#93fa52" transform="rotate(91 74.5 116.0)"/><ellipse cx="95.7" cy="105.4" rx="1.10" ry="0.78" fill="#5be02a" transform="rotate(134 95.7 105.4)"/><ellipse cx="119.4" cy="72.7" rx="1.34" ry="0.75" fill="#4fd026" transform="rotate(178 119.4 72.7)"/><ellipse cx="79.9" cy="68.8" rx="2.04" ry="0.99" fill="#5be02a" transform="rotate(88 79.9 68.8)"/><ellipse cx="142.6" cy="101.9" rx="2.25" ry="1.07" fill="#74f23c" transform="rotate(145 142.6 101.9)"/><ellipse cx="133.9" cy="56.8" rx="1.97" ry="0.97" fill="#5be02a" transform="rotate(66 133.9 56.8)"/><ellipse cx="119.3" cy="95.0" rx="1.11" ry="0.80" fill="#7cf03c" transform="rotate(64 119.3 95.0)"/><ellipse cx="82.2" cy="121.1" rx="1.18" ry="0.58" fill="#45c022" transform="rotate(0 82.2 121.1)"/><ellipse cx="130.0" cy="120.9" rx="2.00" ry="0.91" fill="#93fa52" transform="rotate(7 130.0 120.9)"/><ellipse cx="69.9" cy="94.6" rx="1.43" ry="0.71" fill="#66e830" transform="rotate(148 69.9 94.6)"/><ellipse cx="119.4" cy="121.1" rx="0.80" ry="0.49" fill="#74f23c" transform="rotate(48 119.4 121.1)"/><ellipse cx="132.8" cy="112.9" rx="1.58" ry="1.08" fill="#5be02a" transform="rotate(56 132.8 112.9)"/><ellipse cx="141.2" cy="100.4" rx="1.16" ry="0.74" fill="#45c022" transform="rotate(131 141.2 100.4)"/><ellipse cx="115.8" cy="84.6" rx="0.79" ry="0.60" fill="#93fa52" transform="rotate(27 115.8 84.6)"/><ellipse cx="64.7" cy="77.6" rx="1.04" ry="0.47" fill="#4fd026" transform="rotate(21 64.7 77.6)"/><ellipse cx="122.4" cy="95.6" rx="1.39" ry="0.99" fill="#4fd026" transform="rotate(136 122.4 95.6)"/><ellipse cx="130.6" cy="96.8" rx="0.96" ry="0.52" fill="#66e830" transform="rotate(67 130.6 96.8)"/><ellipse cx="141.6" cy="99.9" rx="1.11" ry="0.75" fill="#45c022" transform="rotate(22 141.6 99.9)"/><ellipse cx="92.2" cy="104.7" rx="1.52" ry="1.07" fill="#5be02a" transform="rotate(115 92.2 104.7)"/><ellipse cx="107.2" cy="101.2" rx="0.94" ry="0.74" fill="#7cf03c" transform="rotate(3 107.2 101.2)"/><ellipse cx="111.4" cy="112.0" rx="0.79" ry="0.53" fill="#74f23c" transform="rotate(102 111.4 112.0)"/><ellipse cx="102.4" cy="61.7" rx="0.90" ry="0.58" fill="#5be02a" transform="rotate(113 102.4 61.7)"/><ellipse cx="83.9" cy="93.5" rx="1.58" ry="0.72" fill="#4fd026" transform="rotate(49 83.9 93.5)"/><ellipse cx="128.5" cy="75.3" rx="1.00" ry="0.76" fill="#45c022" transform="rotate(136 128.5 75.3)"/><ellipse cx="112.6" cy="92.0" rx="1.67" ry="0.99" fill="#93fa52" transform="rotate(14 112.6 92.0)"/><ellipse cx="130.4" cy="117.9" rx="0.64" ry="0.51" fill="#5be02a" transform="rotate(156 130.4 117.9)"/><ellipse cx="75.3" cy="76.2" rx="0.91" ry="0.79" fill="#4fd026" transform="rotate(110 75.3 76.2)"/><ellipse cx="132.9" cy="89.4" rx="1.31" ry="0.77" fill="#74f23c" transform="rotate(4 132.9 89.4)"/><ellipse cx="74.5" cy="104.1" rx="0.90" ry="0.66" fill="#74f23c" transform="rotate(135 74.5 104.1)"/><ellipse cx="121.8" cy="79.1" rx="1.97" ry="1.00" fill="#45c022" transform="rotate(88 121.8 79.1)"/><ellipse cx="139.5" cy="73.4" rx="1.73" ry="0.93" fill="#74f23c" transform="rotate(61 139.5 73.4)"/><ellipse cx="130.1" cy="102.0" rx="1.25" ry="0.56" fill="#5be02a" transform="rotate(160 130.1 102.0)"/><ellipse cx="139.3" cy="84.6" rx="1.15" ry="0.60" fill="#66e830" transform="rotate(42 139.3 84.6)"/><ellipse cx="96.4" cy="73.6" rx="1.40" ry="0.79" fill="#45c022" transform="rotate(141 96.4 73.6)"/><ellipse cx="131.1" cy="111.2" rx="1.20" ry="1.04" fill="#93fa52" transform="rotate(132 131.1 111.2)"/><ellipse cx="72.3" cy="96.2" rx="1.75" ry="0.88" fill="#66e830" transform="rotate(51 72.3 96.2)"/><ellipse cx="112.7" cy="111.1" rx="2.00" ry="0.95" fill="#93fa52" transform="rotate(156 112.7 111.1)"/><ellipse cx="125.1" cy="59.1" rx="0.87" ry="0.57" fill="#66e830" transform="rotate(110 125.1 59.1)"/><ellipse cx="73.8" cy="90.8" rx="0.87" ry="0.67" fill="#45c022" transform="rotate(126 73.8 90.8)"/><ellipse cx="92.4" cy="92.7" rx="1.22" ry="0.59" fill="#7cf03c" transform="rotate(124 92.4 92.7)"/><ellipse cx="76.8" cy="77.2" rx="1.75" ry="0.87" fill="#93fa52" transform="rotate(122 76.8 77.2)"/><ellipse cx="65.4" cy="94.8" rx="1.12" ry="0.55" fill="#74f23c" transform="rotate(145 65.4 94.8)"/><ellipse cx="102.6" cy="88.8" rx="2.41" ry="1.07" fill="#93fa52" transform="rotate(19 102.6 88.8)"/><ellipse cx="79.3" cy="89.7" rx="0.92" ry="0.51" fill="#93fa52" transform="rotate(141 79.3 89.7)"/><ellipse cx="123.1" cy="70.8" rx="0.92" ry="0.59" fill="#93fa52" transform="rotate(40 123.1 70.8)"/><ellipse cx="85.1" cy="96.6" rx="1.40" ry="1.04" fill="#45c022" transform="rotate(174 85.1 96.6)"/><ellipse cx="69.6" cy="101.4" rx="1.35" ry="0.61" fill="#93fa52" transform="rotate(100 69.6 101.4)"/><ellipse cx="78.8" cy="73.7" rx="1.14" ry="0.92" fill="#5be02a" transform="rotate(3 78.8 73.7)"/><ellipse cx="88.9" cy="49.9" rx="1.30" ry="1.03" fill="#93fa52" transform="rotate(5 88.9 49.9)"/><ellipse cx="97.1" cy="105.5" rx="1.29" ry="0.91" fill="#5be02a" transform="rotate(8 97.1 105.5)"/><ellipse cx="88.9" cy="131.1" rx="1.03" ry="0.75" fill="#93fa52" transform="rotate(124 88.9 131.1)"/><ellipse cx="121.0" cy="84.1" rx="1.64" ry="0.88" fill="#66e830" transform="rotate(8 121.0 84.1)"/><ellipse cx="131.5" cy="84.2" rx="1.03" ry="0.77" fill="#5be02a" transform="rotate(165 131.5 84.2)"/><ellipse cx="126.6" cy="57.2" rx="1.62" ry="0.74" fill="#45c022" transform="rotate(159 126.6 57.2)"/><ellipse cx="130.9" cy="86.4" rx="0.89" ry="0.78" fill="#66e830" transform="rotate(26 130.9 86.4)"/><ellipse cx="142.4" cy="114.1" rx="2.10" ry="1.03" fill="#7cf03c" transform="rotate(115 142.4 114.1)"/><ellipse cx="134.6" cy="71.3" rx="1.05" ry="0.48" fill="#66e830" transform="rotate(100 134.6 71.3)"/><ellipse cx="128.3" cy="61.3" rx="0.69" ry="0.45" fill="#45c022" transform="rotate(110 128.3 61.3)"/><ellipse cx="92.8" cy="66.2" rx="1.71" ry="0.83" fill="#93fa52" transform="rotate(152 92.8 66.2)"/><ellipse cx="98.6" cy="89.7" rx="0.77" ry="0.68" fill="#7cf03c" transform="rotate(126 98.6 89.7)"/><ellipse cx="81.8" cy="101.5" rx="1.47" ry="0.83" fill="#74f23c" transform="rotate(57 81.8 101.5)"/><ellipse cx="130.8" cy="100.4" rx="1.53" ry="0.70" fill="#45c022" transform="rotate(93 130.8 100.4)"/><ellipse cx="142.0" cy="85.7" rx="1.60" ry="0.88" fill="#74f23c" transform="rotate(149 142.0 85.7)"/><ellipse cx="120.4" cy="109.9" rx="1.02" ry="0.71" fill="#4fd026" transform="rotate(178 120.4 109.9)"/><ellipse cx="118.6" cy="99.2" rx="1.33" ry="0.81" fill="#7cf03c" transform="rotate(114 118.6 99.2)"/><ellipse cx="77.5" cy="66.6" rx="1.06" ry="0.71" fill="#66e830" transform="rotate(71 77.5 66.6)"/><ellipse cx="96.1" cy="121.2" rx="1.63" ry="1.04" fill="#7cf03c" transform="rotate(172 96.1 121.2)"/><ellipse cx="65.1" cy="104.2" rx="1.78" ry="0.91" fill="#74f23c" transform="rotate(115 65.1 104.2)"/><ellipse cx="124.0" cy="118.8" rx="0.83" ry="0.56" fill="#45c022" transform="rotate(16 124.0 118.8)"/><ellipse cx="71.8" cy="75.7" rx="1.08" ry="0.47" fill="#93fa52" transform="rotate(58 71.8 75.7)"/><ellipse cx="135.2" cy="92.3" rx="1.03" ry="0.60" fill="#93fa52" transform="rotate(11 135.2 92.3)"/><ellipse cx="115.3" cy="68.0" rx="1.57" ry="0.70" fill="#45c022" transform="rotate(95 115.3 68.0)"/><ellipse cx="70.9" cy="104.0" rx="1.05" ry="0.68" fill="#4fd026" transform="rotate(62 70.9 104.0)"/><ellipse cx="104.7" cy="118.2" rx="1.67" ry="0.71" fill="#5be02a" transform="rotate(126 104.7 118.2)"/><ellipse cx="126.7" cy="74.3" rx="0.99" ry="0.82" fill="#4fd026" transform="rotate(145 126.7 74.3)"/><ellipse cx="113.7" cy="88.8" rx="1.23" ry="0.71" fill="#66e830" transform="rotate(13 113.7 88.8)"/><ellipse cx="74.5" cy="91.7" rx="1.77" ry="1.05" fill="#4fd026" transform="rotate(135 74.5 91.7)"/><ellipse cx="132.5" cy="114.7" rx="1.51" ry="0.76" fill="#7cf03c" transform="rotate(23 132.5 114.7)"/><ellipse cx="74.0" cy="95.9" rx="1.34" ry="0.68" fill="#66e830" transform="rotate(40 74.0 95.9)"/><ellipse cx="79.1" cy="62.0" rx="1.33" ry="0.88" fill="#4fd026" transform="rotate(7 79.1 62.0)"/><ellipse cx="87.4" cy="97.9" rx="2.01" ry="1.00" fill="#93fa52" transform="rotate(67 87.4 97.9)"/><ellipse cx="73.3" cy="79.4" rx="1.00" ry="0.75" fill="#7cf03c" transform="rotate(116 73.3 79.4)"/><ellipse cx="82.8" cy="91.9" rx="1.67" ry="0.94" fill="#4fd026" transform="rotate(86 82.8 91.9)"/><ellipse cx="74.8" cy="96.3" rx="0.85" ry="0.51" fill="#45c022" transform="rotate(160 74.8 96.3)"/><ellipse cx="79.5" cy="101.3" rx="0.68" ry="0.48" fill="#7cf03c" transform="rotate(159 79.5 101.3)"/><ellipse cx="135.6" cy="67.2" rx="0.78" ry="0.46" fill="#4fd026" transform="rotate(142 135.6 67.2)"/><ellipse cx="63.0" cy="80.8" rx="1.40" ry="0.94" fill="#5be02a" transform="rotate(105 63.0 80.8)"/><ellipse cx="92.8" cy="119.6" rx="2.29" ry="1.05" fill="#7cf03c" transform="rotate(99 92.8 119.6)"/><ellipse cx="66.4" cy="78.4" rx="0.75" ry="0.56" fill="#5be02a" transform="rotate(165 66.4 78.4)"/><ellipse cx="114.3" cy="92.8" rx="0.77" ry="0.62" fill="#7cf03c" transform="rotate(153 114.3 92.8)"/><ellipse cx="112.3" cy="110.8" rx="2.17" ry="0.92" fill="#7cf03c" transform="rotate(144 112.3 110.8)"/><ellipse cx="128.9" cy="115.4" rx="0.72" ry="0.59" fill="#66e830" transform="rotate(98 128.9 115.4)"/><ellipse cx="69.5" cy="82.0" rx="1.35" ry="0.93" fill="#5be02a" transform="rotate(117 69.5 82.0)"/><ellipse cx="135.2" cy="82.9" rx="1.01" ry="0.49" fill="#7cf03c" transform="rotate(144 135.2 82.9)"/><ellipse cx="105.6" cy="68.3" rx="1.53" ry="1.04" fill="#93fa52" transform="rotate(88 105.6 68.3)"/><ellipse cx="99.4" cy="108.2" rx="2.31" ry="0.99" fill="#7cf03c" transform="rotate(73 99.4 108.2)"/><ellipse cx="67.6" cy="94.1" rx="2.06" ry="0.98" fill="#5be02a" transform="rotate(165 67.6 94.1)"/><ellipse cx="132.2" cy="96.8" rx="0.86" ry="0.46" fill="#45c022" transform="rotate(138 132.2 96.8)"/><ellipse cx="80.1" cy="56.7" rx="1.25" ry="0.67" fill="#7cf03c" transform="rotate(70 80.1 56.7)"/><ellipse cx="134.0" cy="104.1" rx="1.73" ry="0.83" fill="#4fd026" transform="rotate(81 134.0 104.1)"/><ellipse cx="122.6" cy="87.2" rx="2.20" ry="1.03" fill="#45c022" transform="rotate(125 122.6 87.2)"/><ellipse cx="125.7" cy="131.3" rx="1.43" ry="0.68" fill="#93fa52" transform="rotate(20 125.7 131.3)"/><ellipse cx="141.2" cy="116.5" rx="0.95" ry="0.50" fill="#7cf03c" transform="rotate(20 141.2 116.5)"/><ellipse cx="74.6" cy="82.0" rx="0.68" ry="0.49" fill="#93fa52" transform="rotate(144 74.6 82.0)"/><ellipse cx="87.5" cy="76.0" rx="0.88" ry="0.70" fill="#5be02a" transform="rotate(26 87.5 76.0)"/><ellipse cx="92.2" cy="96.8" rx="1.19" ry="1.04" fill="#93fa52" transform="rotate(19 92.2 96.8)"/><ellipse cx="123.4" cy="95.3" rx="1.09" ry="0.53" fill="#4fd026" transform="rotate(17 123.4 95.3)"/><ellipse cx="124.5" cy="58.8" rx="1.40" ry="0.75" fill="#74f23c" transform="rotate(44 124.5 58.8)"/><ellipse cx="99.8" cy="85.1" rx="1.42" ry="0.85" fill="#7cf03c" transform="rotate(105 99.8 85.1)"/><ellipse cx="85.9" cy="64.8" rx="0.60" ry="0.44" fill="#45c022" transform="rotate(7 85.9 64.8)"/><ellipse cx="74.0" cy="73.7" rx="1.70" ry="1.04" fill="#93fa52" transform="rotate(21 74.0 73.7)"/><ellipse cx="139.7" cy="109.8" rx="1.28" ry="0.73" fill="#45c022" transform="rotate(1 139.7 109.8)"/><ellipse cx="68.5" cy="108.0" rx="0.85" ry="0.75" fill="#45c022" transform="rotate(123 68.5 108.0)"/><ellipse cx="131.8" cy="96.1" rx="1.35" ry="0.57" fill="#93fa52" transform="rotate(90 131.8 96.1)"/><ellipse cx="98.6" cy="100.0" rx="1.06" ry="0.71" fill="#5be02a" transform="rotate(64 98.6 100.0)"/><ellipse cx="82.2" cy="87.9" rx="1.64" ry="0.74" fill="#66e830" transform="rotate(169 82.2 87.9)"/><ellipse cx="64.1" cy="102.4" rx="0.92" ry="0.58" fill="#93fa52" transform="rotate(0 64.1 102.4)"/><ellipse cx="133.3" cy="82.6" rx="1.67" ry="1.04" fill="#4fd026" transform="rotate(23 133.3 82.6)"/><ellipse cx="97.9" cy="118.9" rx="1.33" ry="0.61" fill="#93fa52" transform="rotate(18 97.9 118.9)"/><ellipse cx="133.1" cy="97.2" rx="0.76" ry="0.54" fill="#7cf03c" transform="rotate(160 133.1 97.2)"/><ellipse cx="123.0" cy="100.8" rx="1.72" ry="0.83" fill="#4fd026" transform="rotate(128 123.0 100.8)"/><ellipse cx="109.3" cy="100.3" rx="1.72" ry="0.84" fill="#45c022" transform="rotate(71 109.3 100.3)"/><ellipse cx="119.8" cy="73.5" rx="1.65" ry="0.87" fill="#4fd026" transform="rotate(38 119.8 73.5)"/><ellipse cx="118.2" cy="78.1" rx="1.84" ry="0.83" fill="#74f23c" transform="rotate(125 118.2 78.1)"/><ellipse cx="64.3" cy="87.3" rx="1.47" ry="0.78" fill="#5be02a" transform="rotate(149 64.3 87.3)"/><ellipse cx="122.6" cy="102.0" rx="0.54" ry="0.45" fill="#66e830" transform="rotate(162 122.6 102.0)"/><ellipse cx="98.2" cy="80.5" rx="1.06" ry="0.54" fill="#74f23c" transform="rotate(112 98.2 80.5)"/><ellipse cx="147.4" cy="88.6" rx="0.98" ry="0.45" fill="#7cf03c" transform="rotate(1 147.4 88.6)"/><ellipse cx="82.5" cy="98.1" rx="1.75" ry="1.08" fill="#5be02a" transform="rotate(135 82.5 98.1)"/><ellipse cx="72.3" cy="95.8" rx="1.09" ry="0.76" fill="#66e830" transform="rotate(94 72.3 95.8)"/><ellipse cx="134.9" cy="117.6" rx="2.14" ry="0.99" fill="#93fa52" transform="rotate(64 134.9 117.6)"/><ellipse cx="135.4" cy="93.9" rx="0.95" ry="0.81" fill="#74f23c" transform="rotate(67 135.4 93.9)"/><ellipse cx="101.6" cy="89.4" rx="0.52" ry="0.46" fill="#45c022" transform="rotate(130 101.6 89.4)"/><ellipse cx="131.7" cy="75.2" rx="1.22" ry="0.65" fill="#5be02a" transform="rotate(145 131.7 75.2)"/><ellipse cx="116.1" cy="86.9" rx="1.01" ry="0.72" fill="#74f23c" transform="rotate(24 116.1 86.9)"/><ellipse cx="99.2" cy="63.3" rx="2.48" ry="1.07" fill="#7cf03c" transform="rotate(58 99.2 63.3)"/><ellipse cx="74.3" cy="74.1" rx="0.91" ry="0.78" fill="#5be02a" transform="rotate(156 74.3 74.1)"/><ellipse cx="127.5" cy="119.6" rx="1.24" ry="0.63" fill="#7cf03c" transform="rotate(76 127.5 119.6)"/><ellipse cx="126.9" cy="68.6" rx="1.12" ry="0.50" fill="#7cf03c" transform="rotate(0 126.9 68.6)"/><ellipse cx="77.5" cy="80.7" rx="1.27" ry="0.61" fill="#4fd026" transform="rotate(24 77.5 80.7)"/><ellipse cx="73.7" cy="103.2" rx="1.64" ry="0.76" fill="#4fd026" transform="rotate(104 73.7 103.2)"/><ellipse cx="80.7" cy="62.6" rx="1.47" ry="0.75" fill="#4fd026" transform="rotate(127 80.7 62.6)"/><ellipse cx="101.5" cy="71.5" rx="1.26" ry="1.05" fill="#45c022" transform="rotate(35 101.5 71.5)"/><ellipse cx="100.6" cy="94.4" rx="1.09" ry="0.65" fill="#66e830" transform="rotate(23 100.6 94.4)"/><ellipse cx="121.8" cy="73.8" rx="0.87" ry="0.50" fill="#74f23c" transform="rotate(104 121.8 73.8)"/><ellipse cx="135.2" cy="99.7" rx="1.62" ry="1.06" fill="#93fa52" transform="rotate(23 135.2 99.7)"/><ellipse cx="99.1" cy="75.2" rx="1.12" ry="0.50" fill="#5be02a" transform="rotate(137 99.1 75.2)"/><ellipse cx="137.5" cy="108.5" rx="1.28" ry="0.95" fill="#74f23c" transform="rotate(105 137.5 108.5)"/><ellipse cx="87.4" cy="102.2" rx="1.07" ry="0.47" fill="#7cf03c" transform="rotate(62 87.4 102.2)"/><ellipse cx="136.2" cy="80.3" rx="1.73" ry="0.79" fill="#4fd026" transform="rotate(53 136.2 80.3)"/><ellipse cx="62.2" cy="101.4" rx="1.14" ry="0.50" fill="#7cf03c" transform="rotate(119 62.2 101.4)"/><ellipse cx="70.8" cy="65.3" rx="0.98" ry="0.61" fill="#93fa52" transform="rotate(152 70.8 65.3)"/><ellipse cx="84.0" cy="101.3" rx="1.91" ry="0.84" fill="#5be02a" transform="rotate(20 84.0 101.3)"/><ellipse cx="130.3" cy="73.5" rx="0.87" ry="0.56" fill="#66e830" transform="rotate(75 130.3 73.5)"/><ellipse cx="112.1" cy="57.3" rx="1.23" ry="0.96" fill="#45c022" transform="rotate(159 112.1 57.3)"/><ellipse cx="107.9" cy="130.9" rx="1.79" ry="0.76" fill="#45c022" transform="rotate(171 107.9 130.9)"/><ellipse cx="116.1" cy="100.9" rx="0.63" ry="0.44" fill="#7cf03c" transform="rotate(38 116.1 100.9)"/><ellipse cx="82.4" cy="131.2" rx="1.59" ry="0.82" fill="#5be02a" transform="rotate(108 82.4 131.2)"/><ellipse cx="85.9" cy="67.4" rx="0.65" ry="0.46" fill="#7cf03c" transform="rotate(75 85.9 67.4)"/><ellipse cx="101.7" cy="91.2" rx="0.97" ry="0.64" fill="#74f23c" transform="rotate(161 101.7 91.2)"/><ellipse cx="93.1" cy="85.4" rx="1.01" ry="0.62" fill="#66e830" transform="rotate(107 93.1 85.4)"/><ellipse cx="128.3" cy="61.7" rx="2.13" ry="0.99" fill="#74f23c" transform="rotate(7 128.3 61.7)"/><ellipse cx="103.9" cy="56.6" rx="1.71" ry="1.08" fill="#74f23c" transform="rotate(122 103.9 56.6)"/><ellipse cx="113.7" cy="136.7" rx="1.04" ry="0.52" fill="#45c022" transform="rotate(109 113.7 136.7)"/><ellipse cx="75.2" cy="101.8" rx="1.03" ry="0.46" fill="#5be02a" transform="rotate(74 75.2 101.8)"/><ellipse cx="93.3" cy="111.3" rx="1.34" ry="0.82" fill="#5be02a" transform="rotate(142 93.3 111.3)"/><ellipse cx="98.5" cy="89.8" rx="0.77" ry="0.54" fill="#66e830" transform="rotate(41 98.5 89.8)"/><ellipse cx="135.0" cy="120.1" rx="1.39" ry="0.67" fill="#7cf03c" transform="rotate(164 135.0 120.1)"/><ellipse cx="132.0" cy="92.7" rx="1.24" ry="0.70" fill="#66e830" transform="rotate(15 132.0 92.7)"/><ellipse cx="72.2" cy="84.2" rx="1.61" ry="0.92" fill="#45c022" transform="rotate(128 72.2 84.2)"/><ellipse cx="126.2" cy="51.8" rx="1.37" ry="0.99" fill="#45c022" transform="rotate(174 126.2 51.8)"/><ellipse cx="69.2" cy="73.3" rx="0.84" ry="0.46" fill="#93fa52" transform="rotate(66 69.2 73.3)"/><ellipse cx="96.1" cy="57.8" rx="0.83" ry="0.52" fill="#5be02a" transform="rotate(125 96.1 57.8)"/><ellipse cx="76.3" cy="99.0" rx="1.09" ry="0.55" fill="#45c022" transform="rotate(104 76.3 99.0)"/><ellipse cx="118.6" cy="81.6" rx="1.66" ry="0.85" fill="#4fd026" transform="rotate(129 118.6 81.6)"/><ellipse cx="138.4" cy="57.7" rx="1.41" ry="0.76" fill="#4fd026" transform="rotate(118 138.4 57.7)"/><ellipse cx="83.7" cy="101.1" rx="0.82" ry="0.45" fill="#7cf03c" transform="rotate(141 83.7 101.1)"/><ellipse cx="86.8" cy="133.8" rx="1.59" ry="0.69" fill="#7cf03c" transform="rotate(74 86.8 133.8)"/><ellipse cx="133.9" cy="106.7" rx="1.38" ry="0.66" fill="#66e830" transform="rotate(45 133.9 106.7)"/><ellipse cx="126.6" cy="60.2" rx="1.27" ry="0.78" fill="#4fd026" transform="rotate(65 126.6 60.2)"/><ellipse cx="117.1" cy="135.0" rx="1.20" ry="0.62" fill="#74f23c" transform="rotate(141 117.1 135.0)"/><ellipse cx="138.2" cy="89.2" rx="1.15" ry="0.69" fill="#7cf03c" transform="rotate(22 138.2 89.2)"/><ellipse cx="138.9" cy="116.7" rx="1.21" ry="1.00" fill="#45c022" transform="rotate(57 138.9 116.7)"/><ellipse cx="78.4" cy="100.6" rx="0.95" ry="0.55" fill="#7cf03c" transform="rotate(96 78.4 100.6)"/><ellipse cx="83.5" cy="110.5" rx="1.08" ry="0.85" fill="#5be02a" transform="rotate(18 83.5 110.5)"/><ellipse cx="84.1" cy="94.9" rx="1.29" ry="0.75" fill="#74f23c" transform="rotate(39 84.1 94.9)"/><ellipse cx="131.6" cy="72.8" rx="0.93" ry="0.54" fill="#66e830" transform="rotate(172 131.6 72.8)"/><ellipse cx="94.4" cy="95.7" rx="1.07" ry="0.89" fill="#45c022" transform="rotate(62 94.4 95.7)"/><ellipse cx="130.4" cy="81.5" rx="1.13" ry="0.98" fill="#74f23c" transform="rotate(124 130.4 81.5)"/><ellipse cx="87.4" cy="110.3" rx="1.09" ry="0.64" fill="#93fa52" transform="rotate(12 87.4 110.3)"/><ellipse cx="126.9" cy="51.7" rx="0.78" ry="0.52" fill="#93fa52" transform="rotate(105 126.9 51.7)"/><ellipse cx="146.5" cy="84.2" rx="0.67" ry="0.48" fill="#45c022" transform="rotate(151 146.5 84.2)"/><ellipse cx="88.7" cy="55.8" rx="1.67" ry="0.76" fill="#5be02a" transform="rotate(131 88.7 55.8)"/><ellipse cx="98.4" cy="132.1" rx="0.98" ry="0.77" fill="#93fa52" transform="rotate(3 98.4 132.1)"/><ellipse cx="105.1" cy="96.6" rx="1.14" ry="0.76" fill="#45c022" transform="rotate(98 105.1 96.6)"/><ellipse cx="85.2" cy="55.7" rx="1.49" ry="1.02" fill="#5be02a" transform="rotate(136 85.2 55.7)"/><ellipse cx="102.5" cy="121.3" rx="1.62" ry="0.69" fill="#4fd026" transform="rotate(90 102.5 121.3)"/><ellipse cx="116.7" cy="102.3" rx="1.34" ry="1.01" fill="#74f23c" transform="rotate(146 116.7 102.3)"/><ellipse cx="80.0" cy="98.9" rx="1.10" ry="0.74" fill="#66e830" transform="rotate(3 80.0 98.9)"/><ellipse cx="89.3" cy="59.8" rx="0.94" ry="0.83" fill="#66e830" transform="rotate(16 89.3 59.8)"/><ellipse cx="138.4" cy="82.9" rx="1.53" ry="0.75" fill="#7cf03c" transform="rotate(119 138.4 82.9)"/><ellipse cx="88.9" cy="117.9" rx="1.06" ry="0.50" fill="#7cf03c" transform="rotate(163 88.9 117.9)"/><ellipse cx="106.7" cy="128.2" rx="0.96" ry="0.58" fill="#45c022" transform="rotate(139 106.7 128.2)"/><ellipse cx="147.0" cy="78.4" rx="2.11" ry="1.01" fill="#4fd026" transform="rotate(93 147.0 78.4)"/><ellipse cx="79.8" cy="91.8" rx="1.23" ry="0.82" fill="#66e830" transform="rotate(69 79.8 91.8)"/><ellipse cx="67.1" cy="87.4" rx="0.79" ry="0.56" fill="#66e830" transform="rotate(164 67.1 87.4)"/><ellipse cx="75.0" cy="86.8" rx="0.71" ry="0.58" fill="#45c022" transform="rotate(134 75.0 86.8)"/><ellipse cx="81.7" cy="107.9" rx="1.25" ry="0.86" fill="#93fa52" transform="rotate(2 81.7 107.9)"/><ellipse cx="118.8" cy="124.7" rx="1.89" ry="0.93" fill="#66e830" transform="rotate(82 118.8 124.7)"/><ellipse cx="145.6" cy="103.2" rx="1.63" ry="0.80" fill="#66e830" transform="rotate(167 145.6 103.2)"/><ellipse cx="91.2" cy="102.4" rx="1.46" ry="0.96" fill="#93fa52" transform="rotate(3 91.2 102.4)"/><ellipse cx="135.8" cy="86.6" rx="0.60" ry="0.48" fill="#45c022" transform="rotate(137 135.8 86.6)"/><ellipse cx="123.3" cy="69.8" rx="0.92" ry="0.70" fill="#7cf03c" transform="rotate(159 123.3 69.8)"/><ellipse cx="116.8" cy="66.0" rx="2.09" ry="0.97" fill="#74f23c" transform="rotate(114 116.8 66.0)"/><ellipse cx="82.9" cy="98.8" rx="1.00" ry="0.83" fill="#74f23c" transform="rotate(175 82.9 98.8)"/><ellipse cx="89.6" cy="129.8" rx="1.61" ry="1.01" fill="#45c022" transform="rotate(102 89.6 129.8)"/><ellipse cx="66.4" cy="83.9" rx="1.71" ry="0.77" fill="#66e830" transform="rotate(74 66.4 83.9)"/><ellipse cx="80.5" cy="93.9" rx="1.45" ry="0.73" fill="#5be02a" transform="rotate(91 80.5 93.9)"/><ellipse cx="105.0" cy="114.6" rx="1.51" ry="0.77" fill="#5be02a" transform="rotate(64 105.0 114.6)"/><ellipse cx="82.1" cy="131.5" rx="2.00" ry="0.91" fill="#74f23c" transform="rotate(108 82.1 131.5)"/><ellipse cx="116.5" cy="108.5" rx="1.78" ry="1.01" fill="#93fa52" transform="rotate(57 116.5 108.5)"/><ellipse cx="115.5" cy="122.8" rx="1.08" ry="0.92" fill="#7cf03c" transform="rotate(33 115.5 122.8)"/><ellipse cx="74.8" cy="111.4" rx="1.59" ry="0.76" fill="#93fa52" transform="rotate(83 74.8 111.4)"/><ellipse cx="96.4" cy="129.0" rx="0.99" ry="0.45" fill="#4fd026" transform="rotate(92 96.4 129.0)"/><ellipse cx="80.5" cy="128.9" rx="0.73" ry="0.55" fill="#5be02a" transform="rotate(133 80.5 128.9)"/><ellipse cx="117.3" cy="81.4" rx="0.71" ry="0.61" fill="#93fa52" transform="rotate(73 117.3 81.4)"/><ellipse cx="135.9" cy="68.8" rx="1.12" ry="0.98" fill="#66e830" transform="rotate(174 135.9 68.8)"/><ellipse cx="139.7" cy="103.1" rx="1.79" ry="0.84" fill="#7cf03c" transform="rotate(65 139.7 103.1)"/><ellipse cx="137.6" cy="59.8" rx="1.05" ry="0.91" fill="#66e830" transform="rotate(70 137.6 59.8)"/><ellipse cx="123.2" cy="125.8" rx="0.80" ry="0.44" fill="#74f23c" transform="rotate(80 123.2 125.8)"/><ellipse cx="69.1" cy="86.7" rx="1.09" ry="0.62" fill="#7cf03c" transform="rotate(85 69.1 86.7)"/><ellipse cx="73.4" cy="103.1" rx="1.83" ry="0.98" fill="#66e830" transform="rotate(132 73.4 103.1)"/><ellipse cx="68.2" cy="87.5" rx="2.07" ry="0.99" fill="#66e830" transform="rotate(146 68.2 87.5)"/><ellipse cx="116.3" cy="85.2" rx="0.63" ry="0.54" fill="#7cf03c" transform="rotate(141 116.3 85.2)"/><ellipse cx="140.8" cy="114.6" rx="0.84" ry="0.59" fill="#45c022" transform="rotate(42 140.8 114.6)"/><ellipse cx="101.0" cy="98.0" rx="1.00" ry="0.47" fill="#5be02a" transform="rotate(108 101.0 98.0)"/><ellipse cx="81.8" cy="93.6" rx="1.77" ry="1.01" fill="#5be02a" transform="rotate(9 81.8 93.6)"/><ellipse cx="138.7" cy="98.2" rx="0.64" ry="0.49" fill="#45c022" transform="rotate(128 138.7 98.2)"/><ellipse cx="65.4" cy="76.9" rx="1.58" ry="0.99" fill="#45c022" transform="rotate(162 65.4 76.9)"/><ellipse cx="132.9" cy="93.1" rx="1.83" ry="0.79" fill="#74f23c" transform="rotate(49 132.9 93.1)"/><ellipse cx="106.2" cy="55.1" rx="1.03" ry="0.84" fill="#66e830" transform="rotate(68 106.2 55.1)"/><ellipse cx="68.5" cy="104.1" rx="1.07" ry="0.54" fill="#93fa52" transform="rotate(39 68.5 104.1)"/><ellipse cx="83.5" cy="73.5" rx="2.17" ry="0.95" fill="#74f23c" transform="rotate(168 83.5 73.5)"/><ellipse cx="71.1" cy="96.9" rx="1.09" ry="0.53" fill="#7cf03c" transform="rotate(74 71.1 96.9)"/><ellipse cx="79.6" cy="89.5" rx="1.94" ry="0.83" fill="#74f23c" transform="rotate(160 79.6 89.5)"/><ellipse cx="80.3" cy="91.0" rx="1.14" ry="0.70" fill="#74f23c" transform="rotate(4 80.3 91.0)"/><ellipse cx="100.8" cy="113.5" rx="1.27" ry="1.01" fill="#5be02a" transform="rotate(7 100.8 113.5)"/><ellipse cx="137.0" cy="72.2" rx="1.24" ry="0.90" fill="#5be02a" transform="rotate(3 137.0 72.2)"/><ellipse cx="89.9" cy="98.3" rx="0.83" ry="0.70" fill="#4fd026" transform="rotate(174 89.9 98.3)"/><ellipse cx="105.0" cy="77.2" rx="1.14" ry="0.50" fill="#5be02a" transform="rotate(143 105.0 77.2)"/><ellipse cx="69.3" cy="102.6" rx="0.99" ry="0.52" fill="#45c022" transform="rotate(41 69.3 102.6)"/><ellipse cx="114.9" cy="60.1" rx="0.89" ry="0.78" fill="#7cf03c" transform="rotate(69 114.9 60.1)"/><ellipse cx="74.8" cy="114.7" rx="1.01" ry="0.87" fill="#93fa52" transform="rotate(63 74.8 114.7)"/><ellipse cx="135.8" cy="69.5" rx="1.46" ry="0.88" fill="#74f23c" transform="rotate(27 135.8 69.5)"/><ellipse cx="138.2" cy="70.3" rx="2.37" ry="1.08" fill="#66e830" transform="rotate(19 138.2 70.3)"/><ellipse cx="115.1" cy="131.1" rx="1.34" ry="0.72" fill="#66e830" transform="rotate(52 115.1 131.1)"/><ellipse cx="84.3" cy="59.0" rx="0.84" ry="0.63" fill="#4fd026" transform="rotate(112 84.3 59.0)"/><ellipse cx="72.9" cy="79.5" rx="1.92" ry="1.06" fill="#5be02a" transform="rotate(165 72.9 79.5)"/><ellipse cx="106.7" cy="58.4" rx="1.49" ry="1.07" fill="#74f23c" transform="rotate(100 106.7 58.4)"/><ellipse cx="101.2" cy="80.7" rx="1.01" ry="0.51" fill="#7cf03c" transform="rotate(73 101.2 80.7)"/><ellipse cx="126.3" cy="87.1" rx="1.44" ry="0.68" fill="#45c022" transform="rotate(175 126.3 87.1)"/><ellipse cx="86.3" cy="58.8" rx="2.30" ry="1.06" fill="#7cf03c" transform="rotate(92 86.3 58.8)"/><ellipse cx="75.1" cy="76.5" rx="2.52" ry="1.07" fill="#5be02a" transform="rotate(92 75.1 76.5)"/><ellipse cx="119.7" cy="135.9" rx="2.12" ry="1.04" fill="#74f23c" transform="rotate(41 119.7 135.9)"/><ellipse cx="121.0" cy="103.9" rx="1.64" ry="0.73" fill="#5be02a" transform="rotate(131 121.0 103.9)"/><ellipse cx="107.2" cy="136.6" rx="0.96" ry="0.48" fill="#4fd026" transform="rotate(88 107.2 136.6)"/><ellipse cx="71.6" cy="66.8" rx="1.07" ry="0.49" fill="#4fd026" transform="rotate(56 71.6 66.8)"/><ellipse cx="87.0" cy="63.4" rx="0.88" ry="0.58" fill="#7cf03c" transform="rotate(59 87.0 63.4)"/><ellipse cx="112.9" cy="63.8" rx="0.92" ry="0.68" fill="#7cf03c" transform="rotate(46 112.9 63.8)"/><ellipse cx="102.4" cy="82.2" rx="1.23" ry="0.93" fill="#66e830" transform="rotate(91 102.4 82.2)"/><ellipse cx="102.2" cy="87.5" rx="1.43" ry="0.82" fill="#66e830" transform="rotate(40 102.2 87.5)"/><ellipse cx="109.2" cy="120.4" rx="0.97" ry="0.74" fill="#74f23c" transform="rotate(141 109.2 120.4)"/><ellipse cx="144.3" cy="81.2" rx="1.22" ry="0.72" fill="#74f23c" transform="rotate(110 144.3 81.2)"/><ellipse cx="111.2" cy="90.1" rx="1.08" ry="0.62" fill="#93fa52" transform="rotate(30 111.2 90.1)"/><ellipse cx="88.0" cy="64.7" rx="0.65" ry="0.51" fill="#5be02a" transform="rotate(138 88.0 64.7)"/><ellipse cx="114.2" cy="64.0" rx="1.39" ry="0.95" fill="#4fd026" transform="rotate(115 114.2 64.0)"/><ellipse cx="76.6" cy="100.1" rx="2.27" ry="1.02" fill="#66e830" transform="rotate(113 76.6 100.1)"/><ellipse cx="124.1" cy="114.4" rx="0.71" ry="0.52" fill="#66e830" transform="rotate(27 124.1 114.4)"/><ellipse cx="118.4" cy="126.5" rx="1.32" ry="0.79" fill="#66e830" transform="rotate(121 118.4 126.5)"/><ellipse cx="146.5" cy="94.1" rx="0.75" ry="0.59" fill="#66e830" transform="rotate(158 146.5 94.1)"/><ellipse cx="84.1" cy="126.3" rx="1.70" ry="0.76" fill="#45c022" transform="rotate(158 84.1 126.3)"/><ellipse cx="133.0" cy="109.0" rx="1.02" ry="0.68" fill="#7cf03c" transform="rotate(127 133.0 109.0)"/><ellipse cx="63.3" cy="95.7" rx="1.04" ry="0.85" fill="#5be02a" transform="rotate(176 63.3 95.7)"/><ellipse cx="139.6" cy="108.5" rx="1.21" ry="0.77" fill="#4fd026" transform="rotate(77 139.6 108.5)"/><ellipse cx="88.8" cy="103.7" rx="1.23" ry="0.57" fill="#5be02a" transform="rotate(33 88.8 103.7)"/><ellipse cx="80.4" cy="100.5" rx="1.77" ry="0.86" fill="#4fd026" transform="rotate(179 80.4 100.5)"/><ellipse cx="141.8" cy="89.1" rx="2.02" ry="0.96" fill="#45c022" transform="rotate(43 141.8 89.1)"/><ellipse cx="72.9" cy="95.6" rx="0.83" ry="0.49" fill="#74f23c" transform="rotate(89 72.9 95.6)"/><ellipse cx="72.1" cy="69.7" rx="1.74" ry="0.76" fill="#5be02a" transform="rotate(171 72.1 69.7)"/><ellipse cx="79.5" cy="91.5" rx="0.99" ry="0.86" fill="#74f23c" transform="rotate(48 79.5 91.5)"/><circle cx="103.3" cy="92.1" r="0.89" fill="#62d42c"/><circle cx="102.9" cy="97.2" r="0.73" fill="#62d42c"/><circle cx="103.0" cy="148.3" r="0.59" fill="#62d42c"/><circle cx="103.8" cy="32.9" r="0.61" fill="#62d42c"/><circle cx="103.2" cy="81.3" r="0.44" fill="#62d42c"/><circle cx="105.3" cy="142.9" r="0.66" fill="#62d42c"/><circle cx="103.9" cy="101.0" r="0.59" fill="#62d42c"/><circle cx="107.2" cy="127.1" r="0.63" fill="#62d42c"/><circle cx="107.8" cy="113.1" r="0.48" fill="#62d42c"/><circle cx="102.8" cy="114.5" r="0.89" fill="#62d42c"/><circle cx="104.8" cy="64.0" r="0.40" fill="#62d42c"/><circle cx="103.9" cy="109.8" r="0.84" fill="#62d42c"/><circle cx="103.2" cy="95.1" r="0.77" fill="#62d42c"/><circle cx="101.5" cy="95.6" r="0.80" fill="#62d42c"/><circle cx="105.9" cy="105.5" r="0.43" fill="#62d42c"/><circle cx="106.6" cy="97.5" r="0.86" fill="#62d42c"/><circle cx="107.6" cy="116.3" r="0.84" fill="#62d42c"/><circle cx="106.4" cy="146.0" r="0.72" fill="#62d42c"/><circle cx="102.5" cy="82.8" r="0.70" fill="#62d42c"/><circle cx="103.1" cy="70.5" r="0.80" fill="#62d42c"/><circle cx="102.2" cy="91.8" r="0.75" fill="#62d42c"/><circle cx="103.8" cy="130.3" r="0.81" fill="#62d42c"/><circle cx="104.1" cy="30.0" r="0.46" fill="#62d42c"/><circle cx="102.9" cy="40.1" r="0.65" fill="#62d42c"/><circle cx="106.7" cy="120.7" r="0.62" fill="#62d42c"/><circle cx="105.7" cy="134.8" r="0.58" fill="#62d42c"/><circle cx="102.8" cy="45.7" r="0.69" fill="#62d42c"/><circle cx="104.7" cy="44.9" r="0.47" fill="#62d42c"/><circle cx="103.6" cy="147.5" r="0.51" fill="#62d42c"/><circle cx="107.9" cy="58.9" r="0.88" fill="#62d42c"/><circle cx="101.1" cy="149.9" r="0.73" fill="#62d42c"/><circle cx="102.6" cy="59.7" r="0.89" fill="#62d42c"/><circle cx="104.6" cy="146.1" r="0.72" fill="#62d42c"/><circle cx="104.4" cy="57.8" r="0.64" fill="#62d42c"/><circle cx="103.3" cy="78.0" r="0.44" fill="#62d42c"/><circle cx="108.1" cy="136.7" r="0.57" fill="#62d42c"/><circle cx="106.1" cy="45.6" r="0.70" fill="#62d42c"/><circle cx="107.5" cy="83.3" r="0.46" fill="#62d42c"/><circle cx="107.7" cy="36.7" r="0.85" fill="#62d42c"/><circle cx="103.6" cy="107.4" r="0.81" fill="#62d42c"/><circle cx="104.7" cy="67.7" r="0.49" fill="#62d42c"/><circle cx="103.2" cy="127.3" r="0.87" fill="#62d42c"/><circle cx="101.6" cy="147.2" r="0.66" fill="#62d42c"/><circle cx="103.0" cy="82.9" r="0.54" fill="#62d42c"/><circle cx="105.6" cy="52.8" r="0.83" fill="#62d42c"/><circle cx="104.4" cy="33.2" r="0.50" fill="#62d42c"/><circle cx="102.9" cy="76.2" r="0.41" fill="#62d42c"/><circle cx="104.2" cy="110.2" r="0.44" fill="#62d42c"/><circle cx="104.2" cy="113.5" r="0.51" fill="#62d42c"/><circle cx="105.5" cy="96.5" r="0.42" fill="#62d42c"/><circle cx="102.7" cy="139.0" r="0.50" fill="#62d42c"/><circle cx="103.7" cy="65.6" r="0.83" fill="#62d42c"/><circle cx="106.9" cy="88.2" r="0.55" fill="#62d42c"/><circle cx="105.5" cy="50.2" r="0.65" fill="#62d42c"/><circle cx="104.8" cy="64.3" r="0.59" fill="#62d42c"/><circle cx="104.6" cy="61.0" r="0.76" fill="#62d42c"/><circle cx="101.9" cy="100.8" r="0.76" fill="#62d42c"/><circle cx="106.0" cy="141.8" r="0.68" fill="#62d42c"/><circle cx="103.5" cy="39.1" r="0.82" fill="#62d42c"/><circle cx="101.9" cy="93.5" r="0.42" fill="#62d42c"/><circle cx="104.4" cy="143.7" r="0.61" fill="#62d42c"/><circle cx="101.9" cy="86.5" r="0.85" fill="#62d42c"/><circle cx="107.9" cy="83.3" r="0.62" fill="#62d42c"/><circle cx="102.9" cy="118.3" r="0.85" fill="#62d42c"/><circle cx="101.2" cy="97.4" r="0.68" fill="#62d42c"/><circle cx="105.4" cy="55.7" r="0.54" fill="#62d42c"/><circle cx="104.3" cy="33.1" r="0.51" fill="#62d42c"/><circle cx="110.8" cy="54.4" r="0.81" fill="#62d42c"/><circle cx="103.6" cy="42.8" r="0.74" fill="#62d42c"/><circle cx="102.8" cy="119.6" r="0.72" fill="#62d42c"/><circle cx="101.3" cy="137.0" r="0.75" fill="#58c82a"/><circle cx="92.1" cy="165.6" r="0.43" fill="#58c82a"/><circle cx="84.9" cy="169.2" r="0.76" fill="#58c82a"/><circle cx="121.3" cy="164.7" r="0.43" fill="#58c82a"/><circle cx="115.8" cy="142.8" r="0.81" fill="#58c82a"/><circle cx="92.2" cy="163.7" r="0.81" fill="#58c82a"/><circle cx="107.2" cy="141.8" r="0.75" fill="#58c82a"/><circle cx="101.6" cy="141.9" r="0.52" fill="#58c82a"/><circle cx="108.1" cy="149.6" r="0.56" fill="#58c82a"/><circle cx="87.6" cy="159.7" r="0.85" fill="#58c82a"/><circle cx="98.2" cy="144.2" r="0.44" fill="#58c82a"/><circle cx="98.0" cy="156.8" r="0.71" fill="#58c82a"/><circle cx="106.6" cy="156.6" r="0.64" fill="#58c82a"/><circle cx="118.6" cy="153.9" r="0.56" fill="#58c82a"/><circle cx="115.1" cy="158.5" r="0.79" fill="#58c82a"/><circle cx="105.1" cy="169.1" r="0.67" fill="#58c82a"/><circle cx="113.5" cy="150.1" r="0.83" fill="#58c82a"/><circle cx="119.1" cy="168.1" r="0.40" fill="#58c82a"/><circle cx="106.7" cy="159.0" r="0.60" fill="#58c82a"/><circle cx="104.9" cy="157.2" r="0.51" fill="#58c82a"/><circle cx="100.6" cy="143.0" r="0.72" fill="#58c82a"/><circle cx="101.8" cy="143.8" r="0.41" fill="#58c82a"/><circle cx="88.8" cy="167.8" r="0.79" fill="#58c82a"/><circle cx="83.2" cy="160.3" r="0.35" fill="#58c82a"/><circle cx="110.6" cy="154.1" r="0.77" fill="#58c82a"/><circle cx="113.9" cy="137.0" r="0.66" fill="#58c82a"/><circle cx="117.6" cy="139.0" r="0.59" fill="#58c82a"/><circle cx="110.6" cy="162.3" r="0.84" fill="#58c82a"/><circle cx="108.6" cy="146.1" r="0.67" fill="#58c82a"/><circle cx="89.0" cy="154.4" r="0.60" fill="#58c82a"/><circle cx="95.9" cy="148.9" r="0.73" fill="#58c82a"/><circle cx="98.5" cy="158.0" r="0.84" fill="#58c82a"/><circle cx="118.5" cy="139.7" r="0.60" fill="#58c82a"/><circle cx="96.8" cy="152.9" r="0.75" fill="#58c82a"/><circle cx="109.0" cy="136.4" r="0.78" fill="#58c82a"/><circle cx="100.8" cy="169.2" r="0.52" fill="#58c82a"/><circle cx="96.9" cy="149.1" r="0.67" fill="#58c82a"/><circle cx="98.7" cy="159.5" r="0.80" fill="#58c82a"/><circle cx="97.1" cy="151.3" r="0.84" fill="#58c82a"/><circle cx="111.9" cy="153.6" r="0.81" fill="#58c82a"/><circle cx="106.1" cy="162.2" r="0.41" fill="#58c82a"/><circle cx="103.6" cy="152.9" r="0.66" fill="#58c82a"/><circle cx="114.4" cy="159.5" r="0.52" fill="#58c82a"/><circle cx="109.6" cy="154.3" r="0.55" fill="#58c82a"/><circle cx="108.0" cy="168.0" r="0.67" fill="#58c82a"/><circle cx="109.6" cy="154.4" r="0.75" fill="#58c82a"/><circle cx="111.8" cy="149.6" r="0.62" fill="#58c82a"/><circle cx="91.1" cy="147.0" r="0.38" fill="#58c82a"/><circle cx="107.3" cy="148.7" r="0.78" fill="#58c82a"/><circle cx="102.3" cy="146.5" r="0.81" fill="#58c82a"/><circle cx="109.1" cy="151.2" r="0.67" fill="#58c82a"/><circle cx="104.7" cy="163.0" r="0.80" fill="#58c82a"/><circle cx="106.4" cy="169.7" r="0.37" fill="#58c82a"/><circle cx="98.8" cy="151.9" r="0.52" fill="#58c82a"/><circle cx="110.0" cy="169.8" r="0.84" fill="#58c82a"/><circle cx="104.9" cy="147.7" r="0.85" fill="#58c82a"/><circle cx="103.8" cy="156.5" r="0.45" fill="#58c82a"/><circle cx="101.7" cy="145.5" r="0.71" fill="#58c82a"/><circle cx="106.2" cy="136.2" r="0.51" fill="#58c82a"/><circle cx="112.1" cy="146.3" r="0.41" fill="#58c82a"/><circle cx="141.7" cy="3.5" r="0.57" fill="#6ae032"/><circle cx="151.2" cy="5.3" r="0.56" fill="#6ae032"/><circle cx="143.0" cy="7.8" r="1.37" fill="#3a9a20"/><circle cx="190.2" cy="18.2" r="1.02" fill="#4cc024"/><circle cx="184.2" cy="13.4" r="0.58" fill="#4cc024"/><circle cx="145.4" cy="5.3" r="0.76" fill="#3a9a20"/><circle cx="143.9" cy="6.3" r="0.93" fill="#6ae032"/><circle cx="142.7" cy="7.3" r="0.90" fill="#6ae032"/><circle cx="174.9" cy="7.5" r="0.67" fill="#58d02a"/><circle cx="155.6" cy="10.6" r="0.74" fill="#4cc024"/><circle cx="171.8" cy="7.0" r="1.35" fill="#6ae032"/><circle cx="183.4" cy="12.8" r="1.02" fill="#3a9a20"/><circle cx="152.1" cy="11.8" r="0.79" fill="#6ae032"/><circle cx="144.5" cy="4.2" r="1.30" fill="#4cc024"/><circle cx="139.6" cy="6.9" r="0.93" fill="#3a9a20"/><circle cx="176.5" cy="20.9" r="1.15" fill="#6ae032"/><circle cx="172.2" cy="1.5" r="1.31" fill="#6ae032"/><circle cx="193.5" cy="19.2" r="1.18" fill="#4cc024"/><circle cx="146.1" cy="6.6" r="1.09" fill="#3a9a20"/><circle cx="176.3" cy="8.8" r="0.68" fill="#3a9a20"/><circle cx="186.1" cy="21.2" r="0.92" fill="#3a9a20"/><circle cx="184.8" cy="8.4" r="1.29" fill="#3a9a20"/><circle cx="161.3" cy="14.3" r="0.81" fill="#6ae032"/><circle cx="139.2" cy="6.1" r="0.59" fill="#3a9a20"/><circle cx="186.6" cy="28.9" r="1.18" fill="#6ae032"/><circle cx="136.9" cy="3.1" r="1.40" fill="#4cc024"/><circle cx="148.4" cy="5.7" r="0.58" fill="#4cc024"/><circle cx="187.2" cy="31.8" r="1.34" fill="#3a9a20"/><circle cx="188.5" cy="8.5" r="0.84" fill="#4cc024"/><circle cx="147.4" cy="10.4" r="0.89" fill="#4cc024"/><circle cx="167.9" cy="13.7" r="1.11" fill="#4cc024"/><circle cx="156.1" cy="12.4" r="1.39" fill="#4cc024"/><circle cx="173.4" cy="1.7" r="0.63" fill="#58d02a"/><circle cx="178.7" cy="28.4" r="1.03" fill="#3a9a20"/><circle cx="149.0" cy="2.8" r="0.96" fill="#58d02a"/><circle cx="149.7" cy="8.6" r="0.76" fill="#3a9a20"/><circle cx="180.2" cy="12.8" r="1.40" fill="#58d02a"/><circle cx="182.2" cy="20.4" r="0.92" fill="#4cc024"/><circle cx="184.9" cy="8.6" r="0.71" fill="#4cc024"/><circle cx="182.1" cy="11.3" r="0.73" fill="#3a9a20"/><circle cx="179.4" cy="23.7" r="0.59" fill="#3a9a20"/><circle cx="138.4" cy="5.1" r="1.21" fill="#58d02a"/><circle cx="170.1" cy="2.8" r="1.11" fill="#58d02a"/><circle cx="163.8" cy="7.9" r="0.67" fill="#6ae032"/><circle cx="188.9" cy="37.8" r="1.30" fill="#3a9a20"/><circle cx="150.3" cy="5.7" r="0.76" fill="#4cc024"/><circle cx="165.4" cy="3.9" r="0.71" fill="#58d02a"/><circle cx="187.9" cy="33.5" r="0.96" fill="#4cc024"/><circle cx="193.6" cy="0.4" r="1.03" fill="#3a9a20"/><circle cx="152.2" cy="5.1" r="1.22" fill="#4cc024"/><circle cx="171.2" cy="24.3" r="0.97" fill="#6ae032"/><circle cx="162.4" cy="7.2" r="1.37" fill="#58d02a"/><circle cx="165.2" cy="2.1" r="1.08" fill="#4cc024"/><circle cx="167.2" cy="6.1" r="0.70" fill="#6ae032"/><circle cx="176.7" cy="16.5" r="0.98" fill="#3a9a20"/><circle cx="15.1" cy="89.2" r="0.44" fill="#356f1c"/><circle cx="50.8" cy="55.3" r="0.48" fill="#356f1c"/><circle cx="46.4" cy="51.4" r="0.55" fill="#356f1c"/><circle cx="0.1" cy="29.6" r="0.77" fill="#356f1c"/><circle cx="29.6" cy="57.9" r="0.64" fill="#356f1c"/><circle cx="5.4" cy="26.7" r="0.74" fill="#356f1c"/><circle cx="37.9" cy="45.1" r="0.75" fill="#356f1c"/><circle cx="17.5" cy="59.1" r="0.71" fill="#356f1c"/><circle cx="51.1" cy="40.9" r="0.79" fill="#356f1c"/><circle cx="12.6" cy="39.3" r="0.61" fill="#356f1c"/><circle cx="33.7" cy="69.4" r="0.59" fill="#356f1c"/><circle cx="46.8" cy="37.7" r="0.57" fill="#356f1c"/><circle cx="40.5" cy="108.0" r="0.50" fill="#356f1c"/><circle cx="21.3" cy="61.7" r="0.51" fill="#356f1c"/><circle cx="30.7" cy="113.4" r="0.49" fill="#356f1c"/><circle cx="49.9" cy="107.8" r="0.60" fill="#356f1c"/><circle cx="21.1" cy="23.0" r="0.62" fill="#356f1c"/><circle cx="50.7" cy="52.0" r="0.50" fill="#356f1c"/><circle cx="49.7" cy="27.3" r="0.63" fill="#356f1c"/><circle cx="46.0" cy="66.1" r="0.52" fill="#356f1c"/><circle cx="35.9" cy="47.0" r="0.67" fill="#356f1c"/><circle cx="47.7" cy="98.2" r="0.71" fill="#356f1c"/><circle cx="7.4" cy="39.7" r="0.67" fill="#356f1c"/><circle cx="38.2" cy="108.2" r="0.58" fill="#356f1c"/><circle cx="3.6" cy="18.1" r="0.42" fill="#356f1c"/><circle cx="31" cy="27" r="1.5" fill="#7ae84a"/><circle cx="39" cy="74" r="2.8" fill="#7ae84a"/><circle cx="50" cy="72" r="1.3" fill="#7ae84a"/><circle cx="43" cy="95" r="1.0" fill="#7ae84a"/><circle cx="1" cy="62" r="1.2" fill="#7ae84a"/><circle cx="73" cy="178" r="1.3" fill="#7ae84a"/><circle cx="77" cy="174" r="1.0" fill="#7ae84a"/><circle cx="84" cy="166" r="1.1" fill="#7ae84a"/><circle cx="39" cy="176" r="1.5" fill="#7ae84a"/><circle cx="172" cy="193" r="1.7" fill="#7ae84a"/><circle cx="4" cy="252" r="1.6" fill="#7ae84a"/><circle cx="136" cy="44" r="1.6" fill="#7ae84a"/><circle cx="180" cy="18" r="1.8" fill="#7ae84a"/><circle cx="165" cy="16" r="1.8" fill="#7ae84a"/><circle cx="185" cy="10" r="1.6" fill="#7ae84a"/><circle cx="140" cy="3" r="1.5" fill="#7ae84a"/></g>
</g>
<g transform="translate(667.6,737.4)" clip-path="url(#c3)">
<rect width="200" height="239" fill="#020201"/>
<path d="M16.5,68.0 C17.0,64.8 19.2,62.2 21.3,58.5 C23.4,54.8 25.8,49.9 29.3,45.6 C32.8,41.3 37.3,36.8 42.1,32.8 C46.9,28.8 52.8,24.7 58.1,21.6 C63.5,18.5 68.3,15.9 74.2,14.4 C80.1,12.9 87.0,12.8 93.4,12.8 C99.8,12.8 106.5,12.9 112.6,14.4 C118.7,15.9 124.6,18.7 130.2,21.6 C135.8,24.5 141.1,28.0 146.2,32.0 C151.3,36.0 156.3,40.6 160.6,45.6 C164.9,50.6 169.0,55.8 171.8,61.7 C174.6,67.6 176.3,74.5 177.5,80.9 C178.7,87.3 178.9,93.8 179.0,100.0 C179.1,106.2 179.0,112.7 178.3,118.0 C177.6,123.3 176.9,126.2 175.0,132.0 C173.1,137.8 170.5,146.1 167.0,152.8 C163.5,159.5 159.0,166.1 154.2,172.0 C149.4,177.9 144.1,183.2 138.2,188.0 C132.3,192.8 125.4,197.7 119.0,200.9 C112.6,204.1 106.2,206.1 99.8,207.3 C93.4,208.5 87.0,208.8 80.6,208.0 C74.2,207.2 67.4,205.0 61.3,202.5 C55.1,200.0 49.0,196.7 43.7,192.9 C38.4,189.2 33.3,184.6 29.3,180.0 C25.3,175.4 22.0,170.1 19.7,165.6 C17.4,161.1 16.0,156.5 15.7,152.8 C15.4,149.1 16.4,145.7 18.1,143.2 C19.8,140.7 23.2,138.3 26.1,137.6 C29.0,136.9 33.0,137.7 35.7,139.2 C38.4,140.7 40.4,144.6 42.1,146.4 C43.8,148.2 44.9,150.7 46.0,150.0 C47.1,149.3 49.2,145.3 49.0,142.0 C48.8,138.7 46.5,133.7 45.0,130.0 C43.5,126.3 41.5,123.7 40.0,120.0 C38.5,116.3 37.0,112.0 36.0,108.0 C35.0,104.0 34.5,99.3 34.0,96.0 C33.5,92.7 34.6,90.0 33.0,88.0 C31.4,86.0 27.0,85.7 24.5,84.0 C22.0,82.3 19.4,80.4 18.1,77.7 C16.8,75.0 16.0,71.2 16.5,68.0Z" fill="#157a14" filter="url(#b25)"/>
<path d="M140.0,32.0 C142.7,34.7 151.7,42.0 156.0,48.0 C160.3,54.0 163.7,61.0 166.0,68.0 C168.3,75.0 169.5,82.7 170.0,90.0 C170.5,97.3 170.2,104.3 169.0,112.0 C167.8,119.7 165.8,128.3 163.0,136.0 C160.2,143.7 156.5,151.2 152.0,158.0 C147.5,164.8 142.0,171.5 136.0,177.0 C130.0,182.5 122.8,187.7 116.0,191.0 C109.2,194.3 102.0,196.2 95.0,197.0 C88.0,197.8 80.8,197.5 74.0,196.0 C67.2,194.5 60.0,191.7 54.0,188.0 C48.0,184.3 42.3,179.0 38.0,174.0 C33.7,169.0 29.7,160.7 28.0,158.0" fill="none" stroke="#2bcc25" stroke-width="10" stroke-linecap="round" filter="url(#b3)" opacity="0.8"/>
<path d="M166.0,68.0 C166.7,71.7 169.5,82.7 170.0,90.0 C170.5,97.3 170.2,104.3 169.0,112.0 C167.8,119.7 165.8,128.3 163.0,136.0 C160.2,143.7 156.5,151.2 152.0,158.0 C147.5,164.8 142.0,171.5 136.0,177.0 C130.0,182.5 119.3,188.7 116.0,191.0" fill="none" stroke="#3be234" stroke-width="5" stroke-linecap="round" filter="url(#b3)" opacity="0.8"/>
<path d="M34.1,100.0 C34.3,96.2 35.7,92.1 37.3,87.3 C38.9,82.5 41.0,76.6 43.7,71.3 C46.4,66.0 49.6,60.1 53.3,55.3 C57.0,50.5 61.3,45.9 66.1,42.4 C70.9,38.9 76.6,36.1 82.2,34.4 C87.8,32.7 93.9,31.9 99.8,32.0 C105.7,32.1 111.8,33.2 117.4,35.2 C123.0,37.2 128.6,40.4 133.4,44.0 C138.2,47.6 142.6,52.1 146.2,56.9 C149.8,61.7 152.9,67.3 155.0,72.9 C157.1,78.5 158.3,84.4 159.0,90.5 C159.7,96.6 159.6,104.8 159.0,109.7 C158.4,114.6 157.1,116.0 155.5,120.0 C153.9,124.0 152.3,128.8 149.4,134.0 C146.5,139.2 142.7,145.4 138.2,151.2 C133.7,157.0 128.1,163.7 122.2,168.8 C116.3,173.9 109.4,178.8 103.0,181.7 C96.6,184.6 90.0,186.2 83.8,186.5 C77.6,186.8 71.0,185.4 66.0,183.3 C61.0,181.2 56.3,177.6 54.0,174.0 C51.7,170.4 52.2,166.0 52.0,162.0 C51.8,158.0 52.8,153.7 52.5,150.0 C52.2,146.3 51.2,143.3 50.0,140.0 C48.8,136.7 46.7,133.3 45.0,130.0 C43.3,126.7 41.5,123.3 40.0,120.0 C38.5,116.7 37.0,113.3 36.0,110.0 C35.0,106.7 33.9,103.8 34.1,100.0Z" fill="#072b08" filter="url(#b2)"/>
<ellipse cx="85" cy="140" rx="42" ry="50" fill="#041c05" filter="url(#b10)" opacity="0.8"/>
<ellipse cx="45.5" cy="146" rx="3.5" ry="7" fill="#020201" filter="url(#b1)"/>
<ellipse cx="134" cy="34" rx="7" ry="4" fill="#3fe636" transform="rotate(35 134 34)" filter="url(#b2)" opacity="0.8"/>
<ellipse cx="103" cy="25" rx="8" ry="2.5" fill="#3fe636" transform="rotate(-25 103 25)" filter="url(#b2)" opacity="0.8"/>
<ellipse cx="30" cy="150" rx="4.5" ry="4.5" fill="#3fe636" transform="rotate(0 30 150)" filter="url(#b2)" opacity="0.8"/>
<ellipse cx="29" cy="58" rx="2" ry="8" fill="#3fe636" transform="rotate(15 29 58)" filter="url(#b2)" opacity="0.8"/>
</g>
<rect x="981.9" y="143.5" width="295.69999999999993" height="95.9" fill="#cde0e8"/>
<rect x="980.1" y="294.9" width="295.80000000000007" height="96.10000000000002" fill="#cde0e8"/>
<rect x="978.3" y="445.5" width="295.60000000000014" height="96.25" fill="#cde0e8"/>
<rect x="979.5" y="595.9" width="295.20000000000005" height="96.0" fill="#cde0e8"/>
<rect x="981" y="746.9" width="295.9000000000001" height="96.20000000000005" fill="#cde0e8"/>
<rect x="982.5" y="897.6" width="295.5" height="96.14999999999998" fill="#cde0e8"/>
<text transform="translate(1035.70,175.50) scale(1.0011,1.014)" font-size="22.8" font-weight="bold" fill="#111" stroke="#111" stroke-width="0.25">Demonstration of</text>
<text transform="translate(1039.91,201.00) scale(0.9950,1.014)" font-size="22.8" font-weight="bold" fill="#111" stroke="#111" stroke-width="0.25">direct regulatory</text>
<text transform="translate(1065.71,226.60) scale(0.9922,1.014)" font-size="22.8" font-weight="bold" fill="#111" stroke="#111" stroke-width="0.25">interactions</text>
<text transform="translate(1059.90,338.40) scale(0.9993,1.014)" font-size="22.8" font-weight="bold" fill="#111" stroke="#111" stroke-width="0.25">Identification</text>
<text transform="translate(1027.70,363.90) scale(0.9995,1.014)" font-size="22.8" font-weight="bold" fill="#111" stroke="#111" stroke-width="0.25">of novel regulators</text>
<text transform="translate(1027.40,478.70) scale(0.9984,1.014)" font-size="22.8" font-weight="bold" fill="#111" stroke="#111" stroke-width="0.25">Targeted loss and</text>
<text transform="translate(1037.40,504.10) scale(1.0030,1.014)" font-size="22.8" font-weight="bold" fill="#111" stroke="#111" stroke-width="0.25">gain of function</text>
<text transform="translate(1086.00,529.70) scale(0.9776,1.014)" font-size="22.8" font-weight="bold" fill="#111" stroke="#111" stroke-width="0.25">assays</text>
<text transform="translate(1034.10,633.50) scale(0.9995,1.014)" font-size="22.8" font-weight="bold" fill="#111" stroke="#111" stroke-width="0.25">Fate mapping and</text>
<text transform="translate(1029.20,659.00) scale(0.9995,1.014)" font-size="22.8" font-weight="bold" fill="#111" stroke="#111" stroke-width="0.25">time lapse imaging</text>
<text transform="translate(1028.70,790.90) scale(0.9980,1.014)" font-size="22.8" font-weight="bold" fill="#111" stroke="#111" stroke-width="0.25">Pure population of</text>
<text transform="translate(1036.00,816.40) scale(0.9968,1.014)" font-size="22.8" font-weight="bold" fill="#111" stroke="#111" stroke-width="0.25">neural crest cells</text>
<text transform="translate(1036.20,925.80) scale(0.9968,1.014)" font-size="20.95" font-weight="bold" fill="#111" stroke="#111" stroke-width="0.25">Characterization of</text>
<text transform="translate(1051.50,949.40) scale(0.9888,1.014)" font-size="20.95" font-weight="bold" fill="#111" stroke="#111" stroke-width="0.25">TF modules and</text>
<text transform="translate(1018.20,972.70) scale(0.9969,1.014)" font-size="20.95" font-weight="bold" fill="#111" stroke="#111" stroke-width="0.25">chromatin interactions</text>
<rect x="887.5" y="188.05" width="78.5" height="3.9" fill="#cbdfe8"/><polygon points="965,180.7 982,190.0 965,199.3" fill="#cbdfe8"/>
<rect x="887.5" y="341.25" width="76.60000000000002" height="3.9" fill="#cbdfe8"/><polygon points="963.1,333.9 980.1,343.2 963.1,352.5" fill="#cbdfe8"/>
<rect x="887.5" y="494.45" width="74.79999999999995" height="3.9" fill="#cbdfe8"/><polygon points="961.3,487.09999999999997 978.3,496.4 961.3,505.7" fill="#cbdfe8"/>
<rect x="887.5" y="639.4499999999999" width="76.0" height="3.9" fill="#cbdfe8"/><polygon points="962.5,632.1 979.5,641.4 962.5,650.6999999999999" fill="#cbdfe8"/>
<rect x="887.5" y="802.55" width="77.5" height="3.9" fill="#cbdfe8"/><polygon points="964,795.2 981,804.5 964,813.8" fill="#cbdfe8"/>
<rect x="887.5" y="940.75" width="79.0" height="3.9" fill="#cbdfe8"/><polygon points="965.5,933.4000000000001 982.5,942.7 965.5,952.0" fill="#cbdfe8"/>
</svg></body></html>
